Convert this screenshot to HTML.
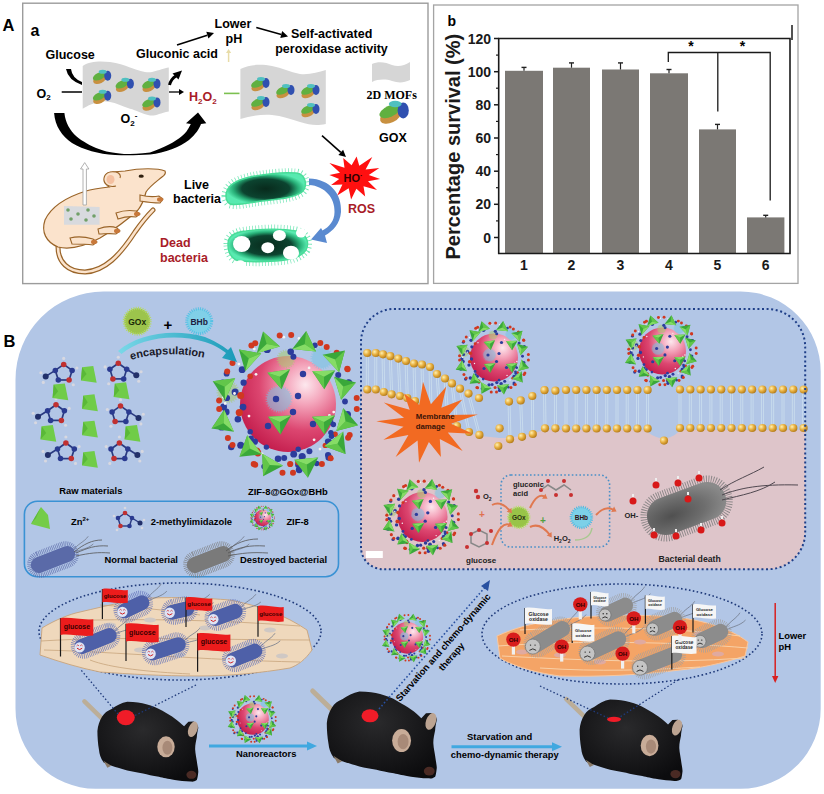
<!DOCTYPE html>
<html><head><meta charset="utf-8"><style>
html,body{margin:0;padding:0;background:#fff;}
svg{display:block;font-family:"Liberation Sans",sans-serif;}
</style></head><body>
<svg width="824" height="794" viewBox="0 0 824 794" font-family="Liberation Sans, sans-serif">
<defs>
<radialGradient id="sph" cx="0.68" cy="0.3" r="0.8">
<stop offset="0" stop-color="#fde8ee"/><stop offset="0.25" stop-color="#f4a6bc"/>
<stop offset="0.6" stop-color="#dc4670"/><stop offset="1" stop-color="#c01848"/></radialGradient>
<linearGradient id="enc" x1="0" y1="0" x2="1" y2="0"><stop offset="0" stop-color="#7ad8e8"/><stop offset="1" stop-color="#1a9ab8"/></linearGradient>
<radialGradient id="gold" cx="0.35" cy="0.35" r="0.7"><stop offset="0" stop-color="#fff0b0"/><stop offset="0.5" stop-color="#e8b040"/><stop offset="1" stop-color="#b07818"/></radialGradient>
<radialGradient id="grayb" cx="0.3" cy="0.55" r="0.7"><stop offset="0" stop-color="#505050"/><stop offset="0.6" stop-color="#6e6e6e"/><stop offset="1" stop-color="#8a8a8a"/></radialGradient>
<radialGradient id="mouse" cx="0.45" cy="0.35" r="0.7"><stop offset="0" stop-color="#2a2a2c"/><stop offset="1" stop-color="#0c0c0e"/></radialGradient>
<radialGradient id="livebac" cx="0.5" cy="0.5" r="0.5"><stop offset="0" stop-color="#082a1c"/><stop offset="0.6" stop-color="#0c4430"/><stop offset="0.82" stop-color="#28b078"/><stop offset="1" stop-color="#58eab0"/></radialGradient>
<clipPath id="dotclip"><path d="M394,309 L767.2,309 A38,38 0 0 1 805.2,347 L805.2,532.2 A37,37 0 0 1 768.2,569.2 L383,569.2 A22,22 0 0 1 361,547.2 L361,342 A33,33 0 0 1 394,309 Z"/></clipPath>
<clipPath id="panelB"><rect x="15" y="291" width="805" height="497" rx="80"/></clipPath>
<g id="np"><circle cx="0" cy="0" r="48" fill="url(#sph)"/><circle cx="-9" cy="-5" r="12" fill="#78c4e4" opacity="0.55" stroke="#78c4e4" stroke-width="3" stroke-dasharray="1 1.3"/><circle cx="34" cy="-46" r="10" fill="#78c4e4" opacity="0.55" stroke="#78c4e4" stroke-width="3" stroke-dasharray="1 1.3"/><circle cx="-60" cy="-12" r="10" fill="#a8cc70" opacity="0.55" stroke="#a8cc70" stroke-width="3" stroke-dasharray="1 1.3"/><circle cx="45" cy="35" r="8" fill="#78c4e4" opacity="0.55" stroke="#78c4e4" stroke-width="3" stroke-dasharray="1 1.3"/><circle cx="-2" cy="-45" r="8" fill="#a8cc70" opacity="0.55" stroke="#a8cc70" stroke-width="3" stroke-dasharray="1 1.3"/><circle cx="-21.6" cy="43.1" r="2.7" fill="#2c3c9c"/><circle cx="-52.9" cy="-12.1" r="3.5" fill="#2c3c9c"/><circle cx="10.2" cy="45.3" r="2.7" fill="#2c3c9c"/><circle cx="47.1" cy="30.2" r="2.7" fill="#d03820"/><circle cx="10.3" cy="60.7" r="3.2" fill="#2c3c9c"/><circle cx="-56.8" cy="43.1" r="3.2" fill="#2c3c9c"/><circle cx="37.3" cy="41.4" r="2.7" fill="#d03820"/><circle cx="-24.0" cy="62.4" r="2.7" fill="#2c3c9c"/><circle cx="-44.4" cy="-21.3" r="3.1" fill="#2c3c9c"/><circle cx="42.2" cy="17.6" r="3.1" fill="#2c3c9c"/><circle cx="-64.5" cy="-13.0" r="3.2" fill="#2c3c9c"/><circle cx="-50.1" cy="15.2" r="3.3" fill="#2c3c9c"/><circle cx="2.2" cy="60.0" r="3.1" fill="#d03820"/><circle cx="-31.3" cy="47.1" r="3.6" fill="#d03820"/><circle cx="41.1" cy="37.6" r="2.8" fill="#2c3c9c"/><circle cx="-45.0" cy="3.1" r="3.4" fill="#2c3c9c"/><circle cx="-61.4" cy="-30.3" r="2.9" fill="#2c3c9c"/><circle cx="-34.1" cy="46.8" r="2.7" fill="#2c3c9c"/><circle cx="42.9" cy="28.6" r="2.7" fill="#2c3c9c"/><circle cx="-18.6" cy="-59.3" r="2.9" fill="#2c3c9c"/><circle cx="-47.3" cy="41.2" r="3.5" fill="#2c3c9c"/><circle cx="-37.6" cy="48.2" r="2.7" fill="#2c3c9c"/><circle cx="5.4" cy="-47.3" r="3.0" fill="#2c3c9c"/><circle cx="50.2" cy="-28.9" r="3.0" fill="#2c3c9c"/><circle cx="-65.4" cy="-21.0" r="3.5" fill="#2c3c9c"/><circle cx="-9.9" cy="54.7" r="3.3" fill="#2c3c9c"/><circle cx="-36.9" cy="34.4" r="2.8" fill="#2c3c9c"/><circle cx="5.7" cy="50.2" r="3.4" fill="#2c3c9c"/><circle cx="21.4" cy="47.3" r="3.0" fill="#2c3c9c"/><circle cx="-40.8" cy="43.8" r="3.3" fill="#2c3c9c"/><circle cx="-61.0" cy="-6.0" r="3.1" fill="#2c3c9c"/><circle cx="48.7" cy="-51.2" r="3.0" fill="#d03820"/><circle cx="-37.8" cy="27.8" r="2.7" fill="#2c3c9c"/><circle cx="45.4" cy="20.5" r="2.7" fill="#2c3c9c"/><circle cx="-37.8" cy="-27.7" r="2.8" fill="#d03820"/><circle cx="43.5" cy="32.2" r="2.7" fill="#2c3c9c"/><circle cx="14.2" cy="52.6" r="3.6" fill="#2c3c9c"/><circle cx="-45.9" cy="-34.3" r="3.4" fill="#2c3c9c"/><circle cx="57.0" cy="-2.5" r="2.9" fill="#2c3c9c"/><circle cx="40.1" cy="51.1" r="3.1" fill="#2c3c9c"/><circle cx="-20.8" cy="-54.6" r="3.6" fill="#2c3c9c"/><circle cx="-47.3" cy="-8.5" r="3.5" fill="#d03820"/><circle cx="2.7" cy="-52.3" r="3.3" fill="#2c3c9c"/><circle cx="-3.8" cy="54.1" r="3.0" fill="#2c3c9c"/><circle cx="10.1" cy="58.3" r="2.9" fill="#d03820"/><circle cx="11.2" cy="65.8" r="3.4" fill="#2c3c9c"/><circle cx="26.9" cy="-58.8" r="2.8" fill="#2c3c9c"/><circle cx="-64.4" cy="2.9" r="3.4" fill="#2c3c9c"/><circle cx="-48.7" cy="8.6" r="3.6" fill="#d03820"/><circle cx="-66.4" cy="22.9" r="3.6" fill="#2c3c9c"/><circle cx="-33.1" cy="37.7" r="3.1" fill="#2c3c9c"/><circle cx="-30.1" cy="49.0" r="3.4" fill="#d03820"/><circle cx="-61.8" cy="8.0" r="3.4" fill="#2c3c9c"/><circle cx="40.0" cy="37.5" r="3.1" fill="#2c3c9c"/><circle cx="28.7" cy="59.5" r="2.7" fill="#2c3c9c"/><circle cx="60.6" cy="-21.3" r="3.0" fill="#2c3c9c"/><circle cx="60.7" cy="-21.1" r="3.6" fill="#2c3c9c"/><circle cx="59.6" cy="10.4" r="3.4" fill="#2c3c9c"/><circle cx="40.8" cy="53.4" r="3.3" fill="#2c3c9c"/><circle cx="-35.0" cy="47.9" r="2.6" fill="#2c3c9c"/><circle cx="18.9" cy="-58.8" r="1.4" fill="#f4f4f4"/><circle cx="49.9" cy="37.6" r="1.4" fill="#f4f4f4"/><circle cx="44.6" cy="53.4" r="1.4" fill="#f4f4f4"/><circle cx="22.5" cy="62.3" r="1.4" fill="#f4f4f4"/><circle cx="45.7" cy="8.1" r="1.4" fill="#f4f4f4"/><circle cx="-62.9" cy="-0.5" r="1.4" fill="#f4f4f4"/><circle cx="-25.9" cy="50.0" r="1.4" fill="#f4f4f4"/><circle cx="21.1" cy="-36.1" r="1.4" fill="#f4f4f4"/><circle cx="-4.2" cy="-66.8" r="1.4" fill="#f4f4f4"/><circle cx="-33.7" cy="-54.9" r="1.4" fill="#f4f4f4"/><circle cx="-64.5" cy="-6.8" r="1.4" fill="#f4f4f4"/><circle cx="31.7" cy="-30.4" r="1.4" fill="#f4f4f4"/><circle cx="32.0" cy="45.1" r="1.4" fill="#f4f4f4"/><circle cx="44.1" cy="-45.4" r="1.4" fill="#f4f4f4"/><circle cx="-49.1" cy="-39.9" r="1.4" fill="#f4f4f4"/><circle cx="26.1" cy="35.8" r="1.4" fill="#f4f4f4"/><circle cx="-32.0" cy="-29.7" r="1.4" fill="#f4f4f4"/><circle cx="56.0" cy="22.9" r="1.4" fill="#f4f4f4"/><circle cx="-53.5" cy="-10.5" r="1.4" fill="#f4f4f4"/><circle cx="11.0" cy="-65.6" r="1.4" fill="#f4f4f4"/><circle cx="42.9" cy="16.0" r="1.4" fill="#f4f4f4"/><circle cx="41.4" cy="11.3" r="1.4" fill="#f4f4f4"/><circle cx="-39.0" cy="12.1" r="1.4" fill="#f4f4f4"/><circle cx="32.9" cy="-25.9" r="1.4" fill="#f4f4f4"/><circle cx="-31.7" cy="61.5" r="1.4" fill="#f4f4f4"/><circle cx="10" cy="-8" r="3.2" fill="#2c3c9c"/><circle cx="-12" cy="-5" r="3.2" fill="#2c3c9c"/><circle cx="5" cy="8" r="3.2" fill="#2c3c9c"/><circle cx="-20" cy="22" r="3.2" fill="#2c3c9c"/><circle cx="25" cy="20" r="3.2" fill="#2c3c9c"/><circle cx="15" cy="-30" r="3.2" fill="#2c3c9c"/><g transform="translate(-22.0,-62.2) rotate(-196) scale(1.20)"><polygon points="-10,-7 10,-7 0,9" fill="#3aa83a"/><polygon points="-10,-7 0,-2 0,9" fill="#62c64a"/><polygon points="-10,-7 10,-7 0,-2" fill="#86dc66"/></g><circle cx="-36.6" cy="-58.5" r="3.0" fill="#d03820"/><circle cx="-8.3" cy="-68.5" r="3.0" fill="#d03820"/><g transform="translate(17.0,-62.2) rotate(-174) scale(1.20)"><polygon points="-10,-7 10,-7 0,9" fill="#3aa83a"/><polygon points="-10,-7 0,-2 0,9" fill="#62c64a"/><polygon points="-10,-7 10,-7 0,-2" fill="#86dc66"/></g><circle cx="3.2" cy="-68.9" r="3.0" fill="#d03820"/><circle cx="32.3" cy="-61.0" r="3.0" fill="#d03820"/><g transform="translate(-41.0,-47.2) rotate(-228) scale(1.20)"><polygon points="-10,-7 10,-7 0,9" fill="#3aa83a"/><polygon points="-10,-7 0,-2 0,9" fill="#62c64a"/><polygon points="-10,-7 10,-7 0,-2" fill="#86dc66"/></g><circle cx="-55.5" cy="-41.0" r="3.0" fill="#d03820"/><circle cx="-32.8" cy="-60.7" r="3.0" fill="#d03820"/><g transform="translate(49.0,-46.2) rotate(-133) scale(1.20)"><polygon points="-10,-7 10,-7 0,9" fill="#3aa83a"/><polygon points="-10,-7 0,-2 0,9" fill="#62c64a"/><polygon points="-10,-7 10,-7 0,-2" fill="#86dc66"/></g><circle cx="38.7" cy="-57.1" r="3.0" fill="#d03820"/><circle cx="59.3" cy="-35.2" r="3.0" fill="#d03820"/><g transform="translate(-65.5,-18.3) rotate(-245) scale(1.20)"><polygon points="-10,-7 10,-7 0,9" fill="#3aa83a"/><polygon points="-10,-7 0,-2 0,9" fill="#62c64a"/><polygon points="-10,-7 10,-7 0,-2" fill="#86dc66"/></g><circle cx="-68.9" cy="-3.6" r="3.0" fill="#d03820"/><circle cx="-60.8" cy="-32.6" r="3.0" fill="#d03820"/><g transform="translate(57.6,-18.3) rotate(-107) scale(1.20)"><polygon points="-10,-7 10,-7 0,9" fill="#3aa83a"/><polygon points="-10,-7 0,-2 0,9" fill="#62c64a"/><polygon points="-10,-7 10,-7 0,-2" fill="#86dc66"/></g><circle cx="59.6" cy="-34.7" r="3.0" fill="#d03820"/><circle cx="68.7" cy="-6.0" r="3.0" fill="#d03820"/><g transform="translate(-66.6,20.2) rotate(66) scale(1.20)"><polygon points="-10,-7 10,-7 0,9" fill="#3aa83a"/><polygon points="-10,-7 0,-2 0,9" fill="#62c64a"/><polygon points="-10,-7 10,-7 0,-2" fill="#86dc66"/></g><circle cx="-60.1" cy="34.0" r="3.0" fill="#d03820"/><circle cx="-68.8" cy="5.1" r="3.0" fill="#d03820"/><g transform="translate(59.8,18.0) rotate(-73) scale(1.20)"><polygon points="-10,-7 10,-7 0,9" fill="#3aa83a"/><polygon points="-10,-7 0,-2 0,9" fill="#62c64a"/><polygon points="-10,-7 10,-7 0,-2" fill="#86dc66"/></g><circle cx="68.8" cy="5.0" r="3.0" fill="#d03820"/><circle cx="60.1" cy="33.8" r="3.0" fill="#d03820"/><g transform="translate(-40.0,46.0) rotate(52) scale(1.20)"><polygon points="-10,-7 10,-7 0,9" fill="#3aa83a"/><polygon points="-10,-7 0,-2 0,9" fill="#62c64a"/><polygon points="-10,-7 10,-7 0,-2" fill="#86dc66"/></g><circle cx="-32.8" cy="60.7" r="3.0" fill="#d03820"/><circle cx="-55.5" cy="40.9" r="3.0" fill="#d03820"/><g transform="translate(51.0,41.6) rotate(-38) scale(1.20)"><polygon points="-10,-7 10,-7 0,9" fill="#3aa83a"/><polygon points="-10,-7 0,-2 0,9" fill="#62c64a"/><polygon points="-10,-7 10,-7 0,-2" fill="#86dc66"/></g><circle cx="61.7" cy="30.9" r="3.0" fill="#d03820"/><circle cx="42.7" cy="54.2" r="3.0" fill="#d03820"/><g transform="translate(-19.5,63.0) rotate(30) scale(1.20)"><polygon points="-10,-7 10,-7 0,9" fill="#3aa83a"/><polygon points="-10,-7 0,-2 0,9" fill="#62c64a"/><polygon points="-10,-7 10,-7 0,-2" fill="#86dc66"/></g><circle cx="-5.5" cy="68.8" r="3.0" fill="#d03820"/><circle cx="-34.3" cy="59.9" r="3.0" fill="#d03820"/><g transform="translate(19.0,63.0) rotate(-5) scale(1.20)"><polygon points="-10,-7 10,-7 0,9" fill="#3aa83a"/><polygon points="-10,-7 0,-2 0,9" fill="#62c64a"/><polygon points="-10,-7 10,-7 0,-2" fill="#86dc66"/></g><circle cx="33.9" cy="60.1" r="3.0" fill="#d03820"/><circle cx="5.0" cy="68.8" r="3.0" fill="#d03820"/><g transform="translate(-8.0,-25.0) rotate(-9) scale(1.15)"><polygon points="-10,-7 10,-7 0,9" fill="#3aa83a"/><polygon points="-10,-7 0,-2 0,9" fill="#62c64a"/><polygon points="-10,-7 10,-7 0,-2" fill="#86dc66"/></g><g transform="translate(36.0,-25.0) rotate(-2) scale(1.15)"><polygon points="-10,-7 10,-7 0,9" fill="#3aa83a"/><polygon points="-10,-7 0,-2 0,9" fill="#62c64a"/><polygon points="-10,-7 10,-7 0,-2" fill="#86dc66"/></g><g transform="translate(-8.0,20.2) rotate(-3) scale(1.15)"><polygon points="-10,-7 10,-7 0,9" fill="#3aa83a"/><polygon points="-10,-7 0,-2 0,9" fill="#62c64a"/><polygon points="-10,-7 10,-7 0,-2" fill="#86dc66"/></g><g transform="translate(36.0,20.2) rotate(-3) scale(1.15)"><polygon points="-10,-7 10,-7 0,9" fill="#3aa83a"/><polygon points="-10,-7 0,-2 0,9" fill="#62c64a"/><polygon points="-10,-7 10,-7 0,-2" fill="#86dc66"/></g></g>
</defs>
<rect width="824" height="794" fill="#fff"/>
<rect x="22.7" y="3.2" width="405.3" height="280.4" fill="#fff" stroke="#9c9c9c" stroke-width="1.4"/>
<text x="2.6" y="31.3" font-size="16.5" font-weight="bold" fill="#000" text-anchor="start" >A</text>
<text x="30.5" y="35.5" font-size="16" font-weight="bold" fill="#000" text-anchor="start" >a</text>
<path d="M82.7,66 C90,61 100,61 110,62 C118,63 124,65 130,67.4 C140,71 146,73 152,72 C160,70 164,68 168.8,67.4 L168.8,111.4 C160,113 156,116 150,115.4 C142,114 136,110 130,108.7 C122,106 116,103 110,102 C104,101 100,101 96.7,102.7 C90,104 86,107 82.7,108.7 Z" fill="#d6d6d6"/>
<path d="M240.4,69 C250,64 262,64 272,66 C282,68 290,72 300,74 C310,75 318,72 325.8,70 L325.8,124 C316,126 310,125 300,122 C290,119 282,116 272,115 C262,114 250,116 240.4,119 Z" fill="#d6d6d6"/>
<path d="M372,64 C378,61 386,62 392,65 C398,67 404,66 410,62 L410,80 C404,83 398,83 392,81 C386,79 378,79 372,82 Z" fill="#d6d6d6"/>
<g transform="translate(100.7,76.7) scale(1.0)"><ellipse cx="-2" cy="2" rx="7" ry="4" fill="#c89040" transform="rotate(-25)"/><ellipse cx="-1" cy="-1" rx="7" ry="3.5" fill="#60b040" transform="rotate(-25)"/><ellipse cx="7" cy="-1" rx="3.5" ry="5" fill="#3050b0"/><ellipse cx="2" cy="-5" rx="4" ry="2" fill="#50c0c0"/></g>
<g transform="translate(100.7,96.7) scale(1.0)"><ellipse cx="-2" cy="2" rx="7" ry="4" fill="#c89040" transform="rotate(-25)"/><ellipse cx="-1" cy="-1" rx="7" ry="3.5" fill="#60b040" transform="rotate(-25)"/><ellipse cx="7" cy="-1" rx="3.5" ry="5" fill="#3050b0"/><ellipse cx="2" cy="-5" rx="4" ry="2" fill="#50c0c0"/></g>
<g transform="translate(123.4,84.7) scale(1.0)"><ellipse cx="-2" cy="2" rx="7" ry="4" fill="#c89040" transform="rotate(-25)"/><ellipse cx="-1" cy="-1" rx="7" ry="3.5" fill="#60b040" transform="rotate(-25)"/><ellipse cx="7" cy="-1" rx="3.5" ry="5" fill="#3050b0"/><ellipse cx="2" cy="-5" rx="4" ry="2" fill="#50c0c0"/></g>
<g transform="translate(150,84.7) scale(1.0)"><ellipse cx="-2" cy="2" rx="7" ry="4" fill="#c89040" transform="rotate(-25)"/><ellipse cx="-1" cy="-1" rx="7" ry="3.5" fill="#60b040" transform="rotate(-25)"/><ellipse cx="7" cy="-1" rx="3.5" ry="5" fill="#3050b0"/><ellipse cx="2" cy="-5" rx="4" ry="2" fill="#50c0c0"/></g>
<g transform="translate(150,103.4) scale(1.0)"><ellipse cx="-2" cy="2" rx="7" ry="4" fill="#c89040" transform="rotate(-25)"/><ellipse cx="-1" cy="-1" rx="7" ry="3.5" fill="#60b040" transform="rotate(-25)"/><ellipse cx="7" cy="-1" rx="3.5" ry="5" fill="#3050b0"/><ellipse cx="2" cy="-5" rx="4" ry="2" fill="#50c0c0"/></g>
<g transform="translate(259,84) scale(1.0)"><ellipse cx="-2" cy="2" rx="7" ry="4" fill="#c89040" transform="rotate(-25)"/><ellipse cx="-1" cy="-1" rx="7" ry="3.5" fill="#60b040" transform="rotate(-25)"/><ellipse cx="7" cy="-1" rx="3.5" ry="5" fill="#3050b0"/><ellipse cx="2" cy="-5" rx="4" ry="2" fill="#50c0c0"/></g>
<g transform="translate(259,103) scale(1.0)"><ellipse cx="-2" cy="2" rx="7" ry="4" fill="#c89040" transform="rotate(-25)"/><ellipse cx="-1" cy="-1" rx="7" ry="3.5" fill="#60b040" transform="rotate(-25)"/><ellipse cx="7" cy="-1" rx="3.5" ry="5" fill="#3050b0"/><ellipse cx="2" cy="-5" rx="4" ry="2" fill="#50c0c0"/></g>
<g transform="translate(284,91) scale(1.0)"><ellipse cx="-2" cy="2" rx="7" ry="4" fill="#c89040" transform="rotate(-25)"/><ellipse cx="-1" cy="-1" rx="7" ry="3.5" fill="#60b040" transform="rotate(-25)"/><ellipse cx="7" cy="-1" rx="3.5" ry="5" fill="#3050b0"/><ellipse cx="2" cy="-5" rx="4" ry="2" fill="#50c0c0"/></g>
<g transform="translate(309,91) scale(1.0)"><ellipse cx="-2" cy="2" rx="7" ry="4" fill="#c89040" transform="rotate(-25)"/><ellipse cx="-1" cy="-1" rx="7" ry="3.5" fill="#60b040" transform="rotate(-25)"/><ellipse cx="7" cy="-1" rx="3.5" ry="5" fill="#3050b0"/><ellipse cx="2" cy="-5" rx="4" ry="2" fill="#50c0c0"/></g>
<g transform="translate(309,110) scale(1.0)"><ellipse cx="-2" cy="2" rx="7" ry="4" fill="#c89040" transform="rotate(-25)"/><ellipse cx="-1" cy="-1" rx="7" ry="3.5" fill="#60b040" transform="rotate(-25)"/><ellipse cx="7" cy="-1" rx="3.5" ry="5" fill="#3050b0"/><ellipse cx="2" cy="-5" rx="4" ry="2" fill="#50c0c0"/></g>
<g transform="translate(392,112) scale(1.6)"><ellipse cx="-2" cy="2" rx="7" ry="4" fill="#c89040" transform="rotate(-25)"/><ellipse cx="-1" cy="-1" rx="7" ry="3.5" fill="#60b040" transform="rotate(-25)"/><ellipse cx="7" cy="-1" rx="3.5" ry="5" fill="#3050b0"/><ellipse cx="2" cy="-5" rx="4" ry="2" fill="#50c0c0"/></g>
<text x="45.5" y="59.4" font-size="12.5" font-weight="bold" fill="#000" text-anchor="start" >Glucose</text>
<text x="136" y="58" font-size="12.5" font-weight="bold" fill="#000" text-anchor="start" >Gluconic acid</text>
<text x="214.6" y="28.2" font-size="12.5" font-weight="bold" fill="#000" text-anchor="start" >Lower</text>
<text x="225.5" y="42.8" font-size="12.5" font-weight="bold" fill="#000" text-anchor="start" >pH</text>
<text x="291" y="37.9" font-size="12.5" font-weight="bold" fill="#000" text-anchor="start" >Self-activated</text>
<text x="275.2" y="52.5" font-size="12.5" font-weight="bold" fill="#000" text-anchor="start" >peroxidase activity</text>
<text x="36.5" y="97.5" font-size="12.5" font-weight="bold">O<tspan font-size="8" dy="2.5">2</tspan></text>
<text x="120.5" y="123" font-size="12.5" font-weight="bold">O<tspan font-size="8" dy="2.5">2</tspan><tspan font-size="8" dy="-8">-</tspan></text>
<text x="189" y="101" font-size="12.5" font-weight="bold" fill="#a81c28">H<tspan font-size="8" dy="2.5">2</tspan><tspan dy="-2.5">O</tspan><tspan font-size="8" dy="2.5">2</tspan></text>
<text x="366.5" y="98.5" font-size="12" font-weight="bold" font-family="Liberation Serif, serif">2D MOFs</text>
<text x="379" y="142" font-size="12.5" font-weight="bold" fill="#000" text-anchor="start" >GOX</text>
<text x="184" y="188.5" font-size="12.5" font-weight="bold" fill="#000" text-anchor="start" >Live</text>
<text x="173" y="203" font-size="12.5" font-weight="bold" fill="#000" text-anchor="start" >bacteria</text>
<text x="160" y="247" font-size="12.5" font-weight="bold" fill="#a81c28" text-anchor="start" >Dead</text>
<text x="160" y="261.5" font-size="12.5" font-weight="bold" fill="#a81c28" text-anchor="start" >bacteria</text>
<text x="348" y="212.7" font-size="12.5" font-weight="bold" fill="#a81c28" text-anchor="start" >ROS</text>
<line x1="177" y1="45" x2="207.3" y2="35.2" stroke="#000" stroke-width="1.6"/>
<polygon points="214,33 208.4,38.5 206.3,31.8" fill="#000"/>
<line x1="256.3" y1="27.5" x2="281.3" y2="34.5" stroke="#000" stroke-width="1.6"/>
<polygon points="288,36.4 280.3,37.9 282.2,31.1" fill="#000"/>
<line x1="169" y1="92" x2="179.0" y2="92.0" stroke="#000" stroke-width="1.3"/>
<polygon points="184,92 179.0,95.0 179.0,89.0" fill="#000"/>
<line x1="322" y1="135.6" x2="340.8" y2="152.3" stroke="#000" stroke-width="1.6"/>
<polygon points="346,157 338.4,155.0 343.1,149.7" fill="#000"/>
<line x1="61.7" y1="92" x2="82" y2="92" stroke="#000" stroke-width="1.5"/>
<line x1="224" y1="93.4" x2="239.5" y2="93.4" stroke="#7cc050" stroke-width="1.6"/>
<path d="M228.6,62 L228.6,52" stroke="#e8dca8" stroke-width="1.5"/><path d="M226,53 L228.6,49 L231.2,53Z" fill="#e8dca8"/>
<path d="M66,69 Q68,80 82,85 L82,82 Q72,78 71,69 Z" fill="#000"/>
<path d="M169.5,85 Q171,79 176,76" stroke="#000" stroke-width="3" fill="none"/><polygon points="182,70.5 172.5,73.5 178.5,79.5" fill="#000"/>
<path d="M54.1,112.9 C55,126 62,136 72,143 C84,150 98,154 115,155 C130,155.5 140,155 150,154.4 C165,153 180,147 189,140 C196,134 199,129 201,124 L206.3,123.2 L198,112.5 L186,123.2 L190.8,124.1 C188,130 185,134 182,136 C175,142 165,147 150,152.5 C140,153.8 132,154 124,154 C112,153 105,151.5 99.6,149.3 C90,146 82,141 76.6,136.6 C70,130 65.5,123 64.4,112.9 Z" fill="#000"/>
<path d="M58,247 C58,262 68,272 85,272 C105,271 120,255 135,232 C142,222 148,215 153,210" fill="none" stroke="#9a6428" stroke-width="5" stroke-linecap="round"/>
<path d="M58,247 C58,262 68,272 85,272 C105,271 120,255 135,232 C142,222 148,215 153,210" fill="none" stroke="#fbe3cc" stroke-width="2.6" stroke-linecap="round"/>
<path d="M165,171 C158,168 140,168 125,171 L112,172 C104,172 102,182 109,187 C100,188 92,189 86,191 C70,196 52,205 45,220 C41,232 46,242 58,247 C70,250 85,246 100,238 C110,232 125,222 138,210 C142,205 144,200 146,192 C150,186 156,182 162,177 C165,175 166,173 165,171 Z" fill="#fbe3cc" stroke="#9a6428" stroke-width="1.2"/>
<path d="M140,195 C148,197 154,197 159,196 L163,199 L160,203 C152,203 146,202 140,201 Z" fill="#fbe3cc" stroke="#9a6428" stroke-width="1.1"/>
<path d="M116,213 C124,210 130,210 136,211 L140,214 L136,217 C130,216 124,217 118,219 Z" fill="#fbe3cc" stroke="#9a6428" stroke-width="1.1"/>
<path d="M98,229 C106,226 112,226 117,228 L120,231 L116,234 C110,233 104,234 99,234 Z" fill="#fbe3cc" stroke="#9a6428" stroke-width="1.1"/>
<path d="M70,238 C78,236 86,237 93,239 L97,242 L93,245 C86,244 79,244 72,244 Z" fill="#fbe3cc" stroke="#9a6428" stroke-width="1.1"/>
<ellipse cx="160" cy="199.5" rx="3" ry="2.2" fill="#c8783a"/>
<ellipse cx="137" cy="214" rx="3" ry="2.2" fill="#c8783a"/>
<ellipse cx="117" cy="231" rx="3" ry="2.2" fill="#c8783a"/>
<ellipse cx="94" cy="242" rx="3" ry="2.2" fill="#c8783a"/>
<path d="M116,186 C108,188 103,183 104,178 C105,173 110,171 116,172 C120,173 121,176 120,178" fill="#fbe3cc" stroke="#9a6428" stroke-width="1.1"/>
<ellipse cx="110.5" cy="179.5" rx="4" ry="4.5" fill="#f4c0a0"/>
<path d="M64,206 L99.6,207 L99.6,224.7 L64,224.7 Z" fill="#d4d8e0" opacity="0.9"/>
<circle cx="68" cy="210" r="1.8" fill="#70a068"/>
<circle cx="78" cy="214" r="1.8" fill="#70a068"/>
<circle cx="88" cy="210" r="1.8" fill="#70a068"/>
<circle cx="71" cy="219" r="1.8" fill="#70a068"/>
<circle cx="86" cy="220" r="1.8" fill="#70a068"/>
<circle cx="94" cy="216" r="1.8" fill="#70a068"/>
<path d="M83,205 L83,169 L80.5,169 L84.7,162.6 L88.9,169 L86.4,169 L86.4,205 Z" fill="#fff" stroke="#a0a0a0" stroke-width="0.8"/>
<ellipse cx="141.2" cy="176.2" rx="2.6" ry="1.6" fill="#302010"/>
<path d="M226,196 C226,186 236,180 250,177 C265,174 285,172 296,173 C306,174 308,186 302,192 C294,198 278,199 262,201 C248,203 236,206 230,204 C227,202 226,199 226,196 Z" fill="none" stroke="#58e0a8" stroke-width="9" stroke-dasharray="0.7 2.4" opacity="0.85"/>
<path d="M226,196 C226,186 236,180 250,177 C265,174 285,172 296,173 C306,174 308,186 302,192 C294,198 278,199 262,201 C248,203 236,206 230,204 C227,202 226,199 226,196 Z" fill="url(#livebac)" stroke="#48dc98" stroke-width="1.5"/>
<path d="M228,244 C228,236 236,232 246,231 C262,229 280,228 296,231 C306,233 310,242 306,250 C300,258 290,260 276,261 C260,262 244,262 236,260 C230,257 228,250 228,244 Z" fill="none" stroke="#58e0a8" stroke-width="9" stroke-dasharray="0.7 2.4" opacity="0.85"/>
<path d="M228,244 C228,236 236,232 246,231 C262,229 280,228 296,231 C306,233 310,242 306,250 C300,258 290,260 276,261 C260,262 244,262 236,260 C230,257 228,250 228,244 Z" fill="url(#livebac)" stroke="#48dc98" stroke-width="1.5"/>
<ellipse cx="241.7" cy="244" rx="8.7" ry="8" fill="#fff"/>
<ellipse cx="267.8" cy="247.7" rx="6.5" ry="5.5" fill="#fff"/>
<ellipse cx="279.4" cy="235.4" rx="6.5" ry="5.5" fill="#fff"/>
<ellipse cx="291" cy="252.8" rx="8" ry="7" fill="#fff"/>
<ellipse cx="240.3" cy="264.3" rx="5" ry="4" fill="#fff"/>
<ellipse cx="301" cy="233" rx="5" ry="4.5" fill="#fff"/>
<path d="M309,178.5 C330,179 342,194 341,212 C340,224 333,231 325,235.5 L327,243 L311,239.5 L321,228 L322.5,230.5 C329,227 334.5,221 334.5,212 C335,198 325,186 309,185 Z" fill="#5a8ad0"/>
<polygon points="380.1,179.1 368.0,181.2 377.0,190.0 363.5,186.3 365.2,196.4 356.4,188.8 351.1,199.4 348.7,188.2 337.2,195.4 342.4,184.6 331.1,185.1 339.2,178.9 329.4,175.1 340.0,172.8 329.4,163.1 344.5,167.7 343.2,158.1 351.6,165.2 356.6,156.5 359.3,165.8 372.3,157.0 365.6,169.4 379.3,168.0 368.8,175.1" fill="#ff1010"/>
<text x="343.5" y="182" font-size="11" font-weight="bold" fill="#300">HO<tspan font-size="8" dy="-4">·</tspan></text>
<rect x="433.6" y="5" width="364.4" height="278.4" fill="#fff" stroke="#a4a4a4" stroke-width="1.3"/>
<text x="447.5" y="25.5" font-size="14" font-weight="bold" fill="#000" text-anchor="start" >b</text>
<rect x="505" y="70.8" width="38" height="182.7" fill="#7b7874"/>
<line x1="524.0" y1="67.4" x2="524.0" y2="70.8" stroke="#222" stroke-width="1.2"/>
<line x1="521.5" y1="67.4" x2="526.5" y2="67.4" stroke="#222" stroke-width="1.4"/>
<rect x="553" y="67.7" width="37" height="185.8" fill="#7b7874"/>
<line x1="571.5" y1="62.9" x2="571.5" y2="67.7" stroke="#222" stroke-width="1.2"/>
<line x1="569.0" y1="62.9" x2="574.0" y2="62.9" stroke="#222" stroke-width="1.4"/>
<rect x="602" y="69.5" width="37" height="184.0" fill="#7b7874"/>
<line x1="620.5" y1="62.9" x2="620.5" y2="69.5" stroke="#222" stroke-width="1.2"/>
<line x1="618.0" y1="62.9" x2="623.0" y2="62.9" stroke="#222" stroke-width="1.4"/>
<rect x="650" y="73.3" width="38" height="180.2" fill="#7b7874"/>
<line x1="669.0" y1="69.5" x2="669.0" y2="73.3" stroke="#222" stroke-width="1.2"/>
<line x1="666.5" y1="69.5" x2="671.5" y2="69.5" stroke="#222" stroke-width="1.4"/>
<rect x="699" y="129.4" width="37" height="124.1" fill="#7b7874"/>
<line x1="717.5" y1="124.4" x2="717.5" y2="129.4" stroke="#222" stroke-width="1.2"/>
<line x1="715.0" y1="124.4" x2="720.0" y2="124.4" stroke="#222" stroke-width="1.4"/>
<rect x="747" y="217.4" width="37.39999999999998" height="36.1" fill="#7b7874"/>
<line x1="765.7" y1="215.3" x2="765.7" y2="217.4" stroke="#222" stroke-width="1.2"/>
<line x1="763.2" y1="215.3" x2="768.2" y2="215.3" stroke="#222" stroke-width="1.4"/>
<path d="M498.7,38.5 L498.7,253.5 L790,253.5 L790,38.5 Z" fill="none" stroke="#1a1a1a" stroke-width="1.6"/>
<line x1="494" y1="237.5" x2="498.7" y2="237.5" stroke="#1a1a1a" stroke-width="1.5"/>
<line x1="496" y1="220.9" x2="498.7" y2="220.9" stroke="#1a1a1a" stroke-width="1.2"/>
<text x="491" y="242.5" font-size="14" font-weight="bold" fill="#1a1a1a" text-anchor="end" >0</text>
<line x1="494" y1="204.3" x2="498.7" y2="204.3" stroke="#1a1a1a" stroke-width="1.5"/>
<line x1="496" y1="187.7" x2="498.7" y2="187.7" stroke="#1a1a1a" stroke-width="1.2"/>
<text x="491" y="209.3" font-size="14" font-weight="bold" fill="#1a1a1a" text-anchor="end" >20</text>
<line x1="494" y1="171.2" x2="498.7" y2="171.2" stroke="#1a1a1a" stroke-width="1.5"/>
<line x1="496" y1="154.6" x2="498.7" y2="154.6" stroke="#1a1a1a" stroke-width="1.2"/>
<text x="491" y="176.2" font-size="14" font-weight="bold" fill="#1a1a1a" text-anchor="end" >40</text>
<line x1="494" y1="138.0" x2="498.7" y2="138.0" stroke="#1a1a1a" stroke-width="1.5"/>
<line x1="496" y1="121.4" x2="498.7" y2="121.4" stroke="#1a1a1a" stroke-width="1.2"/>
<text x="491" y="143.0" font-size="14" font-weight="bold" fill="#1a1a1a" text-anchor="end" >60</text>
<line x1="494" y1="104.8" x2="498.7" y2="104.8" stroke="#1a1a1a" stroke-width="1.5"/>
<line x1="496" y1="88.2" x2="498.7" y2="88.2" stroke="#1a1a1a" stroke-width="1.2"/>
<text x="491" y="109.8" font-size="14" font-weight="bold" fill="#1a1a1a" text-anchor="end" >80</text>
<line x1="494" y1="71.7" x2="498.7" y2="71.7" stroke="#1a1a1a" stroke-width="1.5"/>
<line x1="496" y1="55.1" x2="498.7" y2="55.1" stroke="#1a1a1a" stroke-width="1.2"/>
<text x="491" y="76.7" font-size="14" font-weight="bold" fill="#1a1a1a" text-anchor="end" >100</text>
<line x1="494" y1="38.5" x2="498.7" y2="38.5" stroke="#1a1a1a" stroke-width="1.5"/>
<text x="491" y="43.5" font-size="14" font-weight="bold" fill="#1a1a1a" text-anchor="end" >120</text>
<text x="524.0" y="270" font-size="14" font-weight="bold" fill="#1a1a1a" text-anchor="middle" >1</text>
<text x="571.5" y="270" font-size="14" font-weight="bold" fill="#1a1a1a" text-anchor="middle" >2</text>
<text x="620.5" y="270" font-size="14" font-weight="bold" fill="#1a1a1a" text-anchor="middle" >3</text>
<text x="669.0" y="270" font-size="14" font-weight="bold" fill="#1a1a1a" text-anchor="middle" >4</text>
<text x="717.5" y="270" font-size="14" font-weight="bold" fill="#1a1a1a" text-anchor="middle" >5</text>
<text x="765.7" y="270" font-size="14" font-weight="bold" fill="#1a1a1a" text-anchor="middle" >6</text>
<text transform="translate(460,259.5) rotate(-90)" font-size="20" font-weight="bold" fill="#1a1a1a">Percentage survival (%)</text>
<path d="M668.3,62 L668.3,52.5 L770.2,52.5 L770.2,200.6 M717.8,52.5 L717.8,111.4" fill="none" stroke="#1a1a1a" stroke-width="1.3"/>
<text x="691" y="50.5" font-size="14" font-weight="bold" fill="#000" text-anchor="middle" >*</text>
<text x="742.5" y="50.5" font-size="14" font-weight="bold" fill="#000" text-anchor="middle" >*</text>
<path d="M792,25 L792,40" stroke="#1a1a1a" stroke-width="1.5"/>
<text x="3.5" y="346.5" font-size="16.5" font-weight="bold" fill="#000" text-anchor="start" >B</text>
<path d="M103.5,291.5 L740.7,291.5 A80,80 0 0 1 820.7,371.5 L820.7,708.7 A80,80 0 0 1 740.7,788.7 L95.5,788.7 A80,80 0 0 1 15.5,708.7 L15.5,379.5 A88,88 0 0 1 103.5,291.5 Z" fill="#b2c6e6"/>
<g clip-path="url(#dotclip)">
<path d="M355,392 L367,391 C385,393 400,397 410,400 C430,410 450,425 470,433 L480,436 L500,438 C515,438 530,434 545,430 L646,430 C655,440 670,442 680,430 L810,430 L810,580 L355,580 Z" fill="#dec5ca"/>
</g>
<path d="M366.3,353.0 L366.3,389.5 M368.3,353.0 L368.3,389.5" stroke="#cfe2f0" stroke-width="0.8" opacity="0.95"/>
<path d="M374.8,353.0 L374.8,389.5 M376.8,353.0 L376.8,389.5" stroke="#cfe2f0" stroke-width="0.8" opacity="0.95"/>
<path d="M382.0,354.3 L382.8,392.0 M384.0,354.3 L384.8,392.0" stroke="#cfe2f0" stroke-width="0.8" opacity="0.95"/>
<path d="M389.3,356.2 L390.6,394.3 M391.3,356.2 L392.6,394.3" stroke="#cfe2f0" stroke-width="0.8" opacity="0.95"/>
<path d="M397.3,358.6 L399.0,396.0 M399.3,358.6 L401.0,396.0" stroke="#cfe2f0" stroke-width="0.8" opacity="0.95"/>
<path d="M405.0,361.0 L406.3,398.0 M407.0,361.0 L408.3,398.0" stroke="#cfe2f0" stroke-width="0.8" opacity="0.95"/>
<path d="M413.0,363.5 L414.0,401.0 M415.0,363.5 L416.0,401.0" stroke="#cfe2f0" stroke-width="0.8" opacity="0.95"/>
<path d="M421.0,364.5 L422.0,405.0 M423.0,364.5 L424.0,405.0" stroke="#cfe2f0" stroke-width="0.8" opacity="0.95"/>
<path d="M429.0,367.0 L430.0,410.0 M431.0,367.0 L432.0,410.0" stroke="#cfe2f0" stroke-width="0.8" opacity="0.95"/>
<path d="M436.0,374.0 L439.0,416.0 M438.0,374.0 L441.0,416.0" stroke="#cfe2f0" stroke-width="0.8" opacity="0.95"/>
<path d="M444.0,378.5 L447.0,421.0 M446.0,378.5 L449.0,421.0" stroke="#cfe2f0" stroke-width="0.8" opacity="0.95"/>
<path d="M451.0,383.4 L456.0,426.0 M453.0,383.4 L458.0,426.0" stroke="#cfe2f0" stroke-width="0.8" opacity="0.95"/>
<path d="M459.0,388.7 L468.0,432.0 M461.0,388.7 L470.0,432.0" stroke="#cfe2f0" stroke-width="0.8" opacity="0.95"/>
<path d="M467.5,393.6 L478.4,434.9 M469.5,393.6 L480.4,434.9" stroke="#cfe2f0" stroke-width="0.8" opacity="0.95"/>
<path d="M508.0,401.6 L509.0,439.2 M510.0,401.6 L511.0,439.2" stroke="#cfe2f0" stroke-width="0.8" opacity="0.95"/>
<path d="M519.7,400.4 L521.0,436.8 M521.7,400.4 L523.0,436.8" stroke="#cfe2f0" stroke-width="0.8" opacity="0.95"/>
<path d="M531.3,396.0 L531.8,434.0 M533.3,396.0 L533.8,434.0" stroke="#cfe2f0" stroke-width="0.8" opacity="0.95"/>
<path d="M543.5,390.2 L544.0,428.3 M545.5,390.2 L546.0,428.3" stroke="#cfe2f0" stroke-width="0.8" opacity="0.95"/>
<path d="M554.4,390.7 L554.4,428.3 M556.4,390.7 L556.4,428.3" stroke="#cfe2f0" stroke-width="0.8" opacity="0.95"/>
<path d="M565.0,390.0 L565.0,428.5 M567.0,390.0 L567.0,428.5" stroke="#cfe2f0" stroke-width="0.8" opacity="0.95"/>
<path d="M575.2,390.0 L575.2,428.5 M577.2,390.0 L577.2,428.5" stroke="#cfe2f0" stroke-width="0.8" opacity="0.95"/>
<path d="M585.4,390.0 L585.4,428.5 M587.4,390.0 L587.4,428.5" stroke="#cfe2f0" stroke-width="0.8" opacity="0.95"/>
<path d="M595.6,390.0 L595.6,428.5 M597.6,390.0 L597.6,428.5" stroke="#cfe2f0" stroke-width="0.8" opacity="0.95"/>
<path d="M605.8,390.0 L605.8,428.5 M607.8,390.0 L607.8,428.5" stroke="#cfe2f0" stroke-width="0.8" opacity="0.95"/>
<path d="M616.0,390.0 L616.0,428.5 M618.0,390.0 L618.0,428.5" stroke="#cfe2f0" stroke-width="0.8" opacity="0.95"/>
<path d="M626.2,390.0 L626.2,428.5 M628.2,390.0 L628.2,428.5" stroke="#cfe2f0" stroke-width="0.8" opacity="0.95"/>
<path d="M636.4,390.0 L636.4,428.5 M638.4,390.0 L638.4,428.5" stroke="#cfe2f0" stroke-width="0.8" opacity="0.95"/>
<path d="M646.6,390.0 L646.6,428.5 M648.6,390.0 L648.6,428.5" stroke="#cfe2f0" stroke-width="0.8" opacity="0.95"/>
<path d="M679.0,389.5 L679.0,428.0 M681.0,389.5 L681.0,428.0" stroke="#cfe2f0" stroke-width="0.8" opacity="0.95"/>
<path d="M689.3,389.5 L689.3,428.0 M691.3,389.5 L691.3,428.0" stroke="#cfe2f0" stroke-width="0.8" opacity="0.95"/>
<path d="M699.6,389.5 L699.6,428.0 M701.6,389.5 L701.6,428.0" stroke="#cfe2f0" stroke-width="0.8" opacity="0.95"/>
<path d="M709.9,389.5 L709.9,428.0 M711.9,389.5 L711.9,428.0" stroke="#cfe2f0" stroke-width="0.8" opacity="0.95"/>
<path d="M720.2,389.5 L720.2,428.0 M722.2,389.5 L722.2,428.0" stroke="#cfe2f0" stroke-width="0.8" opacity="0.95"/>
<path d="M730.5,389.5 L730.5,428.0 M732.5,389.5 L732.5,428.0" stroke="#cfe2f0" stroke-width="0.8" opacity="0.95"/>
<path d="M740.8,389.5 L740.8,428.0 M742.8,389.5 L742.8,428.0" stroke="#cfe2f0" stroke-width="0.8" opacity="0.95"/>
<path d="M751.1,389.5 L751.1,428.0 M753.1,389.5 L753.1,428.0" stroke="#cfe2f0" stroke-width="0.8" opacity="0.95"/>
<path d="M761.4,389.5 L761.4,428.0 M763.4,389.5 L763.4,428.0" stroke="#cfe2f0" stroke-width="0.8" opacity="0.95"/>
<path d="M771.7,389.5 L771.7,428.0 M773.7,389.5 L773.7,428.0" stroke="#cfe2f0" stroke-width="0.8" opacity="0.95"/>
<path d="M782.0,389.5 L782.0,428.0 M784.0,389.5 L784.0,428.0" stroke="#cfe2f0" stroke-width="0.8" opacity="0.95"/>
<path d="M792.3,389.5 L792.3,428.0 M794.3,389.5 L794.3,428.0" stroke="#cfe2f0" stroke-width="0.8" opacity="0.95"/>
<path d="M802.6,389.5 L802.6,428.0 M804.6,389.5 L804.6,428.0" stroke="#cfe2f0" stroke-width="0.8" opacity="0.95"/>
<circle cx="367.3" cy="353" r="4.1" fill="url(#gold)"/>
<circle cx="375.8" cy="353" r="4.1" fill="url(#gold)"/>
<circle cx="383" cy="354.3" r="4.1" fill="url(#gold)"/>
<circle cx="390.3" cy="356.2" r="4.1" fill="url(#gold)"/>
<circle cx="398.3" cy="358.6" r="4.1" fill="url(#gold)"/>
<circle cx="406" cy="361" r="4.1" fill="url(#gold)"/>
<circle cx="414" cy="363.5" r="4.1" fill="url(#gold)"/>
<circle cx="422" cy="364.5" r="4.1" fill="url(#gold)"/>
<circle cx="430" cy="367" r="4.1" fill="url(#gold)"/>
<circle cx="437" cy="374" r="4.1" fill="url(#gold)"/>
<circle cx="445" cy="378.5" r="4.1" fill="url(#gold)"/>
<circle cx="452" cy="383.4" r="4.1" fill="url(#gold)"/>
<circle cx="460" cy="388.7" r="4.1" fill="url(#gold)"/>
<circle cx="468.5" cy="393.6" r="4.1" fill="url(#gold)"/>
<circle cx="479" cy="398" r="4.1" fill="url(#gold)"/>
<circle cx="367.3" cy="389.5" r="4.1" fill="url(#gold)"/>
<circle cx="375.8" cy="389.5" r="4.1" fill="url(#gold)"/>
<circle cx="383.8" cy="392" r="4.1" fill="url(#gold)"/>
<circle cx="391.6" cy="394.3" r="4.1" fill="url(#gold)"/>
<circle cx="400" cy="396" r="4.1" fill="url(#gold)"/>
<circle cx="407.3" cy="398" r="4.1" fill="url(#gold)"/>
<circle cx="415" cy="401" r="4.1" fill="url(#gold)"/>
<circle cx="423" cy="405" r="4.1" fill="url(#gold)"/>
<circle cx="431" cy="410" r="4.1" fill="url(#gold)"/>
<circle cx="440" cy="416" r="4.1" fill="url(#gold)"/>
<circle cx="448" cy="421" r="4.1" fill="url(#gold)"/>
<circle cx="457" cy="426" r="4.1" fill="url(#gold)"/>
<circle cx="469" cy="432" r="4.1" fill="url(#gold)"/>
<circle cx="479.4" cy="434.9" r="4.1" fill="url(#gold)"/>
<circle cx="509" cy="401.6" r="4.1" fill="url(#gold)"/>
<circle cx="520.7" cy="400.4" r="4.1" fill="url(#gold)"/>
<circle cx="532.3" cy="396" r="4.1" fill="url(#gold)"/>
<circle cx="544.5" cy="390.2" r="4.1" fill="url(#gold)"/>
<circle cx="555.4" cy="390.7" r="4.1" fill="url(#gold)"/>
<circle cx="566.0" cy="390" r="4.1" fill="url(#gold)"/>
<circle cx="576.2" cy="390" r="4.1" fill="url(#gold)"/>
<circle cx="586.4" cy="390" r="4.1" fill="url(#gold)"/>
<circle cx="596.6" cy="390" r="4.1" fill="url(#gold)"/>
<circle cx="606.8" cy="390" r="4.1" fill="url(#gold)"/>
<circle cx="617.0" cy="390" r="4.1" fill="url(#gold)"/>
<circle cx="627.2" cy="390" r="4.1" fill="url(#gold)"/>
<circle cx="637.4" cy="390" r="4.1" fill="url(#gold)"/>
<circle cx="647.6" cy="390" r="4.1" fill="url(#gold)"/>
<circle cx="510" cy="439.2" r="4.1" fill="url(#gold)"/>
<circle cx="522" cy="436.8" r="4.1" fill="url(#gold)"/>
<circle cx="532.8" cy="434" r="4.1" fill="url(#gold)"/>
<circle cx="545" cy="428.3" r="4.1" fill="url(#gold)"/>
<circle cx="555.4" cy="428.3" r="4.1" fill="url(#gold)"/>
<circle cx="566.0" cy="428.5" r="4.1" fill="url(#gold)"/>
<circle cx="576.2" cy="428.5" r="4.1" fill="url(#gold)"/>
<circle cx="586.4" cy="428.5" r="4.1" fill="url(#gold)"/>
<circle cx="596.6" cy="428.5" r="4.1" fill="url(#gold)"/>
<circle cx="606.8" cy="428.5" r="4.1" fill="url(#gold)"/>
<circle cx="617.0" cy="428.5" r="4.1" fill="url(#gold)"/>
<circle cx="627.2" cy="428.5" r="4.1" fill="url(#gold)"/>
<circle cx="637.4" cy="428.5" r="4.1" fill="url(#gold)"/>
<circle cx="647.6" cy="428.5" r="4.1" fill="url(#gold)"/>
<circle cx="680.0" cy="389.5" r="4.1" fill="url(#gold)"/>
<circle cx="690.3" cy="389.5" r="4.1" fill="url(#gold)"/>
<circle cx="700.6" cy="389.5" r="4.1" fill="url(#gold)"/>
<circle cx="710.9" cy="389.5" r="4.1" fill="url(#gold)"/>
<circle cx="721.2" cy="389.5" r="4.1" fill="url(#gold)"/>
<circle cx="731.5" cy="389.5" r="4.1" fill="url(#gold)"/>
<circle cx="741.8" cy="389.5" r="4.1" fill="url(#gold)"/>
<circle cx="752.1" cy="389.5" r="4.1" fill="url(#gold)"/>
<circle cx="762.4" cy="389.5" r="4.1" fill="url(#gold)"/>
<circle cx="772.7" cy="389.5" r="4.1" fill="url(#gold)"/>
<circle cx="783.0" cy="389.5" r="4.1" fill="url(#gold)"/>
<circle cx="793.3" cy="389.5" r="4.1" fill="url(#gold)"/>
<circle cx="803.6" cy="389.5" r="4.1" fill="url(#gold)"/>
<circle cx="680.0" cy="428" r="4.1" fill="url(#gold)"/>
<circle cx="690.3" cy="428" r="4.1" fill="url(#gold)"/>
<circle cx="700.6" cy="428" r="4.1" fill="url(#gold)"/>
<circle cx="710.9" cy="428" r="4.1" fill="url(#gold)"/>
<circle cx="721.2" cy="428" r="4.1" fill="url(#gold)"/>
<circle cx="731.5" cy="428" r="4.1" fill="url(#gold)"/>
<circle cx="741.8" cy="428" r="4.1" fill="url(#gold)"/>
<circle cx="752.1" cy="428" r="4.1" fill="url(#gold)"/>
<circle cx="762.4" cy="428" r="4.1" fill="url(#gold)"/>
<circle cx="772.7" cy="428" r="4.1" fill="url(#gold)"/>
<circle cx="783.0" cy="428" r="4.1" fill="url(#gold)"/>
<circle cx="793.3" cy="428" r="4.1" fill="url(#gold)"/>
<circle cx="803.6" cy="428" r="4.1" fill="url(#gold)"/>
<circle cx="498.3" cy="446" r="4.1" fill="url(#gold)"/>
<circle cx="664" cy="440.6" r="4.1" fill="url(#gold)"/>
<circle cx="499.6" cy="428.3" r="4.1" fill="url(#gold)"/>
<path d="M394,309 L767.2,309 A38,38 0 0 1 805.2,347 L805.2,532.2 A37,37 0 0 1 768.2,569.2 L383,569.2 A22,22 0 0 1 361,547.2 L361,342 A33,33 0 0 1 394,309 Z" fill="none" stroke="#1f3f88" stroke-width="2" stroke-dasharray="2 2.6"/>
<polygon points="477.8,414.6 451.0,423.8 472.8,433.8 447.8,432.5 462.7,451.0 439.8,439.1 440.9,456.9 428.9,441.9 419.0,462.7 417.6,440.5 395.6,456.9 408.4,435.0 383.4,439.8 403.5,426.8 376.3,421.3 404.0,417.7 383.8,402.6 409.7,409.8 404.1,393.5 419.4,405.0 423.0,381.7 430.9,404.3 446.3,386.4 441.4,407.8 462.4,399.6 448.7,414.9" fill="#f26a22"/>
<text x="415.7" y="418.6" font-size="7.8" font-weight="bold" fill="#3a1408" text-anchor="start" >Membrane</text>
<text x="415.7" y="429" font-size="7.8" font-weight="bold" fill="#3a1408" text-anchor="start" >damage</text>
<use href="#np" transform="translate(288,404) scale(1.0)"/>
<use href="#np" transform="translate(494,357.5) scale(0.5)"/>
<use href="#np" transform="translate(662.5,351) scale(0.49)"/>
<use href="#np" transform="translate(422.6,517) scale(0.52)"/>
<use href="#np" transform="translate(253,719) scale(0.33)"/>
<use href="#np" transform="translate(407.3,637.8) scale(0.33)"/>
<use href="#np" transform="translate(262.7,518) scale(0.17)"/>
<circle cx="137.2" cy="321.2" r="13" fill="#9cc44c" stroke="#b4d868" stroke-width="3" stroke-dasharray="1 1.2"/>
<circle cx="199.2" cy="321.2" r="12.5" fill="#80d0e8" stroke="#58c0e4" stroke-width="3" stroke-dasharray="1 1.2"/>
<text x="137.2" y="324.5" font-size="8.5" font-weight="bold" fill="#1a2a08" text-anchor="middle" >GOx</text>
<text x="199.2" y="324.5" font-size="8.5" font-weight="bold" fill="#202040" text-anchor="middle" >BHb</text>
<text x="167.8" y="330" font-size="15" font-weight="bold" fill="#000" text-anchor="middle" >+</text>
<path d="M121.5,354 C140,338 175,333 205,342 C215,345 222,350 226,353 L222,358 L237,362 L231,347 L228,350 C222,345 212,340 205,337 C172,328 138,334 118,351 Z" fill="url(#enc)"/>
<path id="encp" d="M131,360 Q168,349 210,359" fill="none"/>
<text font-size="11" font-weight="bold" fill="#1a1a2a"><textPath href="#encp">encapsulation</textPath></text>
<g transform="translate(63.7,372.8) scale(1.2,1.2)"><line x1="0" y1="-7" x2="7" y2="-2" stroke="#2a3a80" stroke-width="1.4"/><line x1="7" y1="-2" x2="4.5" y2="6" stroke="#2a3a80" stroke-width="1.4"/><line x1="4.5" y1="6" x2="-4.5" y2="6" stroke="#2a3a80" stroke-width="1.4"/><line x1="-4.5" y1="6" x2="-7" y2="-2" stroke="#2a3a80" stroke-width="1.4"/><line x1="-7" y1="-2" x2="0" y2="-7" stroke="#2a3a80" stroke-width="1.4"/><line x1="-7" y1="-2" x2="-15" y2="3" stroke="#2a3a80" stroke-width="1.4"/><circle cx="0" cy="-7" r="2.3" fill="#c03030"/><circle cx="7" cy="-2" r="2.3" fill="#2a3a90"/><circle cx="4.5" cy="6" r="2.3" fill="#c03030"/><circle cx="-4.5" cy="6" r="2.3" fill="#2a3a90"/><circle cx="-7" cy="-2" r="2.3" fill="#2a3a90"/><circle cx="-15" cy="3" r="2.5" fill="#22306a"/><circle cx="0" cy="-12" r="1.3" fill="#d8d8e0"/><circle cx="11" cy="-4" r="1.3" fill="#d8d8e0"/><circle cx="-19" cy="0" r="1.3" fill="#d8d8e0"/><circle cx="-17" cy="8" r="1.3" fill="#d8d8e0"/><circle cx="8" cy="10" r="1.3" fill="#d8d8e0"/></g>
<g transform="translate(118.3,371.7) scale(-1.2,1.2)"><line x1="0" y1="-7" x2="7" y2="-2" stroke="#2a3a80" stroke-width="1.4"/><line x1="7" y1="-2" x2="4.5" y2="6" stroke="#2a3a80" stroke-width="1.4"/><line x1="4.5" y1="6" x2="-4.5" y2="6" stroke="#2a3a80" stroke-width="1.4"/><line x1="-4.5" y1="6" x2="-7" y2="-2" stroke="#2a3a80" stroke-width="1.4"/><line x1="-7" y1="-2" x2="0" y2="-7" stroke="#2a3a80" stroke-width="1.4"/><line x1="-7" y1="-2" x2="-15" y2="3" stroke="#2a3a80" stroke-width="1.4"/><circle cx="0" cy="-7" r="2.3" fill="#c03030"/><circle cx="7" cy="-2" r="2.3" fill="#2a3a90"/><circle cx="4.5" cy="6" r="2.3" fill="#c03030"/><circle cx="-4.5" cy="6" r="2.3" fill="#2a3a90"/><circle cx="-7" cy="-2" r="2.3" fill="#2a3a90"/><circle cx="-15" cy="3" r="2.5" fill="#22306a"/><circle cx="0" cy="-12" r="1.3" fill="#d8d8e0"/><circle cx="11" cy="-4" r="1.3" fill="#d8d8e0"/><circle cx="-19" cy="0" r="1.3" fill="#d8d8e0"/><circle cx="-17" cy="8" r="1.3" fill="#d8d8e0"/><circle cx="8" cy="10" r="1.3" fill="#d8d8e0"/></g>
<g transform="translate(56,413.2) scale(1.2,1.2)"><line x1="0" y1="-7" x2="7" y2="-2" stroke="#2a3a80" stroke-width="1.4"/><line x1="7" y1="-2" x2="4.5" y2="6" stroke="#2a3a80" stroke-width="1.4"/><line x1="4.5" y1="6" x2="-4.5" y2="6" stroke="#2a3a80" stroke-width="1.4"/><line x1="-4.5" y1="6" x2="-7" y2="-2" stroke="#2a3a80" stroke-width="1.4"/><line x1="-7" y1="-2" x2="0" y2="-7" stroke="#2a3a80" stroke-width="1.4"/><line x1="-7" y1="-2" x2="-15" y2="3" stroke="#2a3a80" stroke-width="1.4"/><circle cx="0" cy="-7" r="2.3" fill="#c03030"/><circle cx="7" cy="-2" r="2.3" fill="#2a3a90"/><circle cx="4.5" cy="6" r="2.3" fill="#c03030"/><circle cx="-4.5" cy="6" r="2.3" fill="#2a3a90"/><circle cx="-7" cy="-2" r="2.3" fill="#2a3a90"/><circle cx="-15" cy="3" r="2.5" fill="#22306a"/><circle cx="0" cy="-12" r="1.3" fill="#d8d8e0"/><circle cx="11" cy="-4" r="1.3" fill="#d8d8e0"/><circle cx="-19" cy="0" r="1.3" fill="#d8d8e0"/><circle cx="-17" cy="8" r="1.3" fill="#d8d8e0"/><circle cx="8" cy="10" r="1.3" fill="#d8d8e0"/></g>
<g transform="translate(120.5,414.3) scale(-1.2,1.2)"><line x1="0" y1="-7" x2="7" y2="-2" stroke="#2a3a80" stroke-width="1.4"/><line x1="7" y1="-2" x2="4.5" y2="6" stroke="#2a3a80" stroke-width="1.4"/><line x1="4.5" y1="6" x2="-4.5" y2="6" stroke="#2a3a80" stroke-width="1.4"/><line x1="-4.5" y1="6" x2="-7" y2="-2" stroke="#2a3a80" stroke-width="1.4"/><line x1="-7" y1="-2" x2="0" y2="-7" stroke="#2a3a80" stroke-width="1.4"/><line x1="-7" y1="-2" x2="-15" y2="3" stroke="#2a3a80" stroke-width="1.4"/><circle cx="0" cy="-7" r="2.3" fill="#c03030"/><circle cx="7" cy="-2" r="2.3" fill="#2a3a90"/><circle cx="4.5" cy="6" r="2.3" fill="#c03030"/><circle cx="-4.5" cy="6" r="2.3" fill="#2a3a90"/><circle cx="-7" cy="-2" r="2.3" fill="#2a3a90"/><circle cx="-15" cy="3" r="2.5" fill="#22306a"/><circle cx="0" cy="-12" r="1.3" fill="#d8d8e0"/><circle cx="11" cy="-4" r="1.3" fill="#d8d8e0"/><circle cx="-19" cy="0" r="1.3" fill="#d8d8e0"/><circle cx="-17" cy="8" r="1.3" fill="#d8d8e0"/><circle cx="8" cy="10" r="1.3" fill="#d8d8e0"/></g>
<g transform="translate(65.9,451.4) scale(1.2,1.2)"><line x1="0" y1="-7" x2="7" y2="-2" stroke="#2a3a80" stroke-width="1.4"/><line x1="7" y1="-2" x2="4.5" y2="6" stroke="#2a3a80" stroke-width="1.4"/><line x1="4.5" y1="6" x2="-4.5" y2="6" stroke="#2a3a80" stroke-width="1.4"/><line x1="-4.5" y1="6" x2="-7" y2="-2" stroke="#2a3a80" stroke-width="1.4"/><line x1="-7" y1="-2" x2="0" y2="-7" stroke="#2a3a80" stroke-width="1.4"/><line x1="-7" y1="-2" x2="-15" y2="3" stroke="#2a3a80" stroke-width="1.4"/><circle cx="0" cy="-7" r="2.3" fill="#c03030"/><circle cx="7" cy="-2" r="2.3" fill="#2a3a90"/><circle cx="4.5" cy="6" r="2.3" fill="#c03030"/><circle cx="-4.5" cy="6" r="2.3" fill="#2a3a90"/><circle cx="-7" cy="-2" r="2.3" fill="#2a3a90"/><circle cx="-15" cy="3" r="2.5" fill="#22306a"/><circle cx="0" cy="-12" r="1.3" fill="#d8d8e0"/><circle cx="11" cy="-4" r="1.3" fill="#d8d8e0"/><circle cx="-19" cy="0" r="1.3" fill="#d8d8e0"/><circle cx="-17" cy="8" r="1.3" fill="#d8d8e0"/><circle cx="8" cy="10" r="1.3" fill="#d8d8e0"/></g>
<g transform="translate(119.4,451.4) scale(-1.2,1.2)"><line x1="0" y1="-7" x2="7" y2="-2" stroke="#2a3a80" stroke-width="1.4"/><line x1="7" y1="-2" x2="4.5" y2="6" stroke="#2a3a80" stroke-width="1.4"/><line x1="4.5" y1="6" x2="-4.5" y2="6" stroke="#2a3a80" stroke-width="1.4"/><line x1="-4.5" y1="6" x2="-7" y2="-2" stroke="#2a3a80" stroke-width="1.4"/><line x1="-7" y1="-2" x2="0" y2="-7" stroke="#2a3a80" stroke-width="1.4"/><line x1="-7" y1="-2" x2="-15" y2="3" stroke="#2a3a80" stroke-width="1.4"/><circle cx="0" cy="-7" r="2.3" fill="#c03030"/><circle cx="7" cy="-2" r="2.3" fill="#2a3a90"/><circle cx="4.5" cy="6" r="2.3" fill="#c03030"/><circle cx="-4.5" cy="6" r="2.3" fill="#2a3a90"/><circle cx="-7" cy="-2" r="2.3" fill="#2a3a90"/><circle cx="-15" cy="3" r="2.5" fill="#22306a"/><circle cx="0" cy="-12" r="1.3" fill="#d8d8e0"/><circle cx="11" cy="-4" r="1.3" fill="#d8d8e0"/><circle cx="-19" cy="0" r="1.3" fill="#d8d8e0"/><circle cx="-17" cy="8" r="1.3" fill="#d8d8e0"/><circle cx="8" cy="10" r="1.3" fill="#d8d8e0"/></g>
<g transform="translate(88.8,375) scale(1.12)"><polygon points="-6,-7 4,-8 7,7 -7,5" fill="#70cc48"/><polygon points="-6,-7 -2,-1 -7,5" fill="#5ab838"/></g>
<g transform="translate(60.4,392.4) scale(1.12)"><polygon points="-6,-7 4,-8 7,7 -7,5" fill="#70cc48"/><polygon points="-6,-7 -2,-1 -7,5" fill="#5ab838"/></g>
<g transform="translate(121.6,391.3) scale(1.12)"><polygon points="-6,-7 4,-8 7,7 -7,5" fill="#70cc48"/><polygon points="-6,-7 -2,-1 -7,5" fill="#5ab838"/></g>
<g transform="translate(90,403.3) scale(1.12)"><polygon points="-6,-7 4,-8 7,7 -7,5" fill="#70cc48"/><polygon points="-6,-7 -2,-1 -7,5" fill="#5ab838"/></g>
<g transform="translate(48.4,434) scale(1.12)"><polygon points="-6,-7 4,-8 7,7 -7,5" fill="#70cc48"/><polygon points="-6,-7 -2,-1 -7,5" fill="#5ab838"/></g>
<g transform="translate(90,429.6) scale(1.12)"><polygon points="-6,-7 4,-8 7,7 -7,5" fill="#70cc48"/><polygon points="-6,-7 -2,-1 -7,5" fill="#5ab838"/></g>
<g transform="translate(132.5,434) scale(1.12)"><polygon points="-6,-7 4,-8 7,7 -7,5" fill="#70cc48"/><polygon points="-6,-7 -2,-1 -7,5" fill="#5ab838"/></g>
<g transform="translate(90,460) scale(1.12)"><polygon points="-6,-7 4,-8 7,7 -7,5" fill="#70cc48"/><polygon points="-6,-7 -2,-1 -7,5" fill="#5ab838"/></g>
<text x="59.3" y="494" font-size="9.4" font-weight="bold" fill="#000" text-anchor="start" >Raw materials</text>
<text x="248" y="495" font-size="9.4" font-weight="bold" fill="#000" text-anchor="start" >ZIF-8@GOx@BHb</text>
<rect x="24.4" y="501.2" width="314.1" height="75.5" rx="13" fill="none" stroke="#3a92d4" stroke-width="1.6"/>
<polygon points="41,507 48,515 50,529 31,524" fill="#74cc48"/><polygon points="41,507 36,518 31,524" fill="#5cb83a"/>
<text x="71" y="524.5" font-size="9.4" font-weight="bold">Zn<tspan font-size="6" dy="-4">2+</tspan></text>
<g transform="translate(125,520) scale(-1.0,1.0)"><line x1="0" y1="-7" x2="7" y2="-2" stroke="#2a3a80" stroke-width="1.4"/><line x1="7" y1="-2" x2="4.5" y2="6" stroke="#2a3a80" stroke-width="1.4"/><line x1="4.5" y1="6" x2="-4.5" y2="6" stroke="#2a3a80" stroke-width="1.4"/><line x1="-4.5" y1="6" x2="-7" y2="-2" stroke="#2a3a80" stroke-width="1.4"/><line x1="-7" y1="-2" x2="0" y2="-7" stroke="#2a3a80" stroke-width="1.4"/><line x1="-7" y1="-2" x2="-15" y2="3" stroke="#2a3a80" stroke-width="1.4"/><circle cx="0" cy="-7" r="2.3" fill="#c03030"/><circle cx="7" cy="-2" r="2.3" fill="#2a3a90"/><circle cx="4.5" cy="6" r="2.3" fill="#c03030"/><circle cx="-4.5" cy="6" r="2.3" fill="#2a3a90"/><circle cx="-7" cy="-2" r="2.3" fill="#2a3a90"/><circle cx="-15" cy="3" r="2.5" fill="#22306a"/><circle cx="0" cy="-12" r="1.3" fill="#d8d8e0"/><circle cx="11" cy="-4" r="1.3" fill="#d8d8e0"/><circle cx="-19" cy="0" r="1.3" fill="#d8d8e0"/><circle cx="-17" cy="8" r="1.3" fill="#d8d8e0"/><circle cx="8" cy="10" r="1.3" fill="#d8d8e0"/></g>
<text x="150.7" y="524.5" font-size="9.4" font-weight="bold" fill="#000" text-anchor="start" >2-methylimidazole</text>
<text x="286.4" y="524.5" font-size="9.4" font-weight="bold" fill="#000" text-anchor="start" >ZIF-8</text>
<text x="104.5" y="563" font-size="9.4" font-weight="bold" fill="#000" text-anchor="start" >Normal bacterial</text>
<text x="240" y="563" font-size="9.4" font-weight="bold" fill="#000" text-anchor="start" >Destroyed bacterial</text>
<g transform="translate(36,566) rotate(-21)"><path d="M39.40054944640259,-1 C47.40054944640259,-6 53.40054944640259,-5 59.40054944640259,-9 M39.40054944640259,1 C47.40054944640259,0 53.40054944640259,3 61.40054944640259,0" stroke="#707888" stroke-width="0.7" fill="none"/><rect x="-6" y="-11" width="48.40054944640259" height="22" rx="11" fill="none" stroke="#5a6aa8" stroke-width="5" stroke-dasharray="0.7 1.1" opacity="0.85"/><rect x="-5" y="-8" width="46.40054944640259" height="16" rx="8" fill="#5a6aa8"/></g>
<path d="M76,553 C88,548 95,545 108,546 M76,556 C90,553 98,552 110,553 M74,552 C84,544 92,540 102,540" stroke="#555" stroke-width="0.8" fill="none"/>
<g transform="translate(192,566) rotate(-21)"><path d="M39.40054944640259,-1 C47.40054944640259,-6 53.40054944640259,-5 59.40054944640259,-9 M39.40054944640259,1 C47.40054944640259,0 53.40054944640259,3 61.40054944640259,0" stroke="#707888" stroke-width="0.7" fill="none"/><rect x="-6" y="-11" width="48.40054944640259" height="22" rx="11" fill="none" stroke="#7a7a7a" stroke-width="5" stroke-dasharray="0.7 1.1" opacity="0.85"/><rect x="-5" y="-8" width="46.40054944640259" height="16" rx="8" fill="#7a7a7a"/></g>
<path d="M228,553 C240,547 250,545 265,546 M228,556 C242,553 252,552 268,553 M226,551 C236,543 246,539 258,539" stroke="#555" stroke-width="0.8" fill="none"/>
<ellipse cx="180" cy="631.5" rx="141" ry="48.5" fill="none" stroke="#1f3a7a" stroke-width="1.6" stroke-dasharray="1.6 2.4"/>
<path d="M42,628 C55,620 70,614 80,612 C110,605 130,600 150,598 C180,597 205,598 230,600 C260,606 285,615 307,630 L312,650 C305,660 298,665 290,668 C260,673 230,676 200,676 C160,676 130,674 100,672 C80,668 60,662 40,655 Z" fill="#efd8bc" stroke="#c8a47c" stroke-width="0.9"/>
<path d="M41,641 C120,636 220,640 310,640 M60,621 C140,618 220,620 300,626 M44,650 C120,652 200,660 300,662 M100,605 C150,608 180,612 200,615 M90,660 C110,668 150,672 190,674" stroke="#c8a47c" stroke-width="0.8" fill="none"/>
<ellipse cx="110" cy="625" rx="6" ry="2.6" fill="#cfc8c4"/>
<ellipse cx="150" cy="620" rx="6" ry="2.6" fill="#cfc8c4"/>
<ellipse cx="205" cy="628" rx="6" ry="2.6" fill="#cfc8c4"/>
<ellipse cx="250" cy="645" rx="6" ry="2.6" fill="#cfc8c4"/>
<ellipse cx="235" cy="664" rx="6" ry="2.6" fill="#cfc8c4"/>
<ellipse cx="140" cy="650" rx="6" ry="2.6" fill="#cfc8c4"/>
<ellipse cx="180" cy="655" rx="6" ry="2.6" fill="#cfc8c4"/>
<ellipse cx="282" cy="656" rx="6" ry="2.6" fill="#cfc8c4"/>
<ellipse cx="95" cy="640" rx="6" ry="2.6" fill="#cfc8c4"/>
<ellipse cx="270" cy="630" rx="6" ry="2.6" fill="#cfc8c4"/>
<g transform="translate(122.4,611.9) rotate(-25)"><path d="M27.02602755346792,-1 C35.02602755346792,-6 41.02602755346792,-5 47.02602755346792,-9 M27.02602755346792,1 C35.02602755346792,0 41.02602755346792,3 49.02602755346792,0" stroke="#707888" stroke-width="0.7" fill="none"/><rect x="-6" y="-10.5" width="36.02602755346792" height="21.0" rx="10.5" fill="none" stroke="#6070b8" stroke-width="5" stroke-dasharray="0.7 1.1" opacity="0.85"/><rect x="-5" y="-7.5" width="34.02602755346792" height="15.0" rx="7.5" fill="#4e60a8"/></g>
<g transform="translate(79.6,647.4) rotate(-22)"><path d="M37.37222716089254,-1 C45.37222716089254,-6 51.37222716089254,-5 57.37222716089254,-9 M37.37222716089254,1 C45.37222716089254,0 51.37222716089254,3 59.37222716089254,0" stroke="#707888" stroke-width="0.7" fill="none"/><rect x="-6" y="-10.5" width="46.37222716089254" height="21.0" rx="10.5" fill="none" stroke="#6070b8" stroke-width="5" stroke-dasharray="0.7 1.1" opacity="0.85"/><rect x="-5" y="-7.5" width="44.37222716089254" height="15.0" rx="7.5" fill="#4e60a8"/></g>
<g transform="translate(150.6,653.7) rotate(-18)"><path d="M34.622776601683796,-1 C42.622776601683796,-6 48.622776601683796,-5 54.622776601683796,-9 M34.622776601683796,1 C42.622776601683796,0 48.622776601683796,3 56.622776601683796,0" stroke="#707888" stroke-width="0.7" fill="none"/><rect x="-6" y="-10.5" width="43.622776601683796" height="21.0" rx="10.5" fill="none" stroke="#6070b8" stroke-width="5" stroke-dasharray="0.7 1.1" opacity="0.85"/><rect x="-5" y="-7.5" width="41.622776601683796" height="15.0" rx="7.5" fill="#4e60a8"/></g>
<g transform="translate(169.7,612.8) rotate(-13)"><path d="M23.08780724718357,-1 C31.08780724718357,-6 37.08780724718357,-5 43.08780724718357,-9 M23.08780724718357,1 C31.08780724718357,0 37.08780724718357,3 45.08780724718357,0" stroke="#707888" stroke-width="0.7" fill="none"/><rect x="-6" y="-10.5" width="32.08780724718357" height="21.0" rx="10.5" fill="none" stroke="#6070b8" stroke-width="5" stroke-dasharray="0.7 1.1" opacity="0.85"/><rect x="-5" y="-7.5" width="30.08780724718357" height="15.0" rx="7.5" fill="#4e60a8"/></g>
<g transform="translate(213.3,619.3) rotate(-20)"><path d="M28.622255950637886,-1 C36.622255950637886,-6 42.622255950637886,-5 48.622255950637886,-9 M28.622255950637886,1 C36.622255950637886,0 42.622255950637886,3 50.622255950637886,0" stroke="#707888" stroke-width="0.7" fill="none"/><rect x="-6" y="-10.5" width="37.622255950637886" height="21.0" rx="10.5" fill="none" stroke="#6070b8" stroke-width="5" stroke-dasharray="0.7 1.1" opacity="0.85"/><rect x="-5" y="-7.5" width="35.622255950637886" height="15.0" rx="7.5" fill="#4e60a8"/></g>
<g transform="translate(230.8,660.8) rotate(-22)"><path d="M31.33866616480032,-1 C39.338666164800316,-6 45.338666164800316,-5 51.338666164800316,-9 M31.33866616480032,1 C39.338666164800316,0 45.338666164800316,3 53.338666164800316,0" stroke="#707888" stroke-width="0.7" fill="none"/><rect x="-6" y="-10.5" width="40.338666164800316" height="21.0" rx="10.5" fill="none" stroke="#6070b8" stroke-width="5" stroke-dasharray="0.7 1.1" opacity="0.85"/><rect x="-5" y="-7.5" width="38.338666164800316" height="15.0" rx="7.5" fill="#4e60a8"/></g>
<circle cx="122.4" cy="611.9" r="5.2" fill="#dfe4f4"/><path d="M119.80000000000001,612.6999999999999 Q122.4,615.5 125.0,612.6999999999999" stroke="#d02020" stroke-width="1" fill="none"/><path d="M119.4,610.4 l1.2,-1 l1.2,1 M123.0,610.4 l1.2,-1 l1.2,1" stroke="#d02020" stroke-width="0.7" fill="none"/>
<circle cx="79.6" cy="647.4" r="5.2" fill="#dfe4f4"/><path d="M77.0,648.1999999999999 Q79.6,651.0 82.19999999999999,648.1999999999999" stroke="#d02020" stroke-width="1" fill="none"/><path d="M76.6,645.9 l1.2,-1 l1.2,1 M80.19999999999999,645.9 l1.2,-1 l1.2,1" stroke="#d02020" stroke-width="0.7" fill="none"/>
<circle cx="150.6" cy="653.7" r="5.2" fill="#dfe4f4"/><path d="M148.0,654.5 Q150.6,657.3000000000001 153.2,654.5" stroke="#d02020" stroke-width="1" fill="none"/><path d="M147.6,652.2 l1.2,-1 l1.2,1 M151.2,652.2 l1.2,-1 l1.2,1" stroke="#d02020" stroke-width="0.7" fill="none"/>
<circle cx="169.7" cy="612.8" r="5.2" fill="#dfe4f4"/><path d="M167.1,613.5999999999999 Q169.7,616.4 172.29999999999998,613.5999999999999" stroke="#d02020" stroke-width="1" fill="none"/><path d="M166.7,611.3 l1.2,-1 l1.2,1 M170.29999999999998,611.3 l1.2,-1 l1.2,1" stroke="#d02020" stroke-width="0.7" fill="none"/>
<circle cx="213.3" cy="619.3" r="5.2" fill="#dfe4f4"/><path d="M210.70000000000002,620.0999999999999 Q213.3,622.9 215.9,620.0999999999999" stroke="#d02020" stroke-width="1" fill="none"/><path d="M210.3,617.8 l1.2,-1 l1.2,1 M213.9,617.8 l1.2,-1 l1.2,1" stroke="#d02020" stroke-width="0.7" fill="none"/>
<circle cx="230.8" cy="660.8" r="5.2" fill="#dfe4f4"/><path d="M228.20000000000002,661.5999999999999 Q230.8,664.4 233.4,661.5999999999999" stroke="#d02020" stroke-width="1" fill="none"/><path d="M227.8,659.3 l1.2,-1 l1.2,1 M231.4,659.3 l1.2,-1 l1.2,1" stroke="#d02020" stroke-width="0.7" fill="none"/>
<line x1="102.4" y1="589" x2="102.4" y2="619" stroke="#1a1a1a" stroke-width="1.2"/><path d="M102.4,589 C110.02000000000001,587.5 117.64,591 127.80000000000001,590 L127.80000000000001,602.8 C117.64,604.3 110.02000000000001,600.8 102.4,602.3 Z" fill="#ec1c1c"/><text x="115.10000000000001" y="597.9" font-size="6.0476190476190474" font-weight="bold" fill="#3a0000" text-anchor="middle">glucose</text>
<line x1="60.5" y1="618.2" x2="60.5" y2="656.5" stroke="#1a1a1a" stroke-width="1.2"/><path d="M60.5,618.2 C70.34,616.7 80.17999999999999,620.2 93.3,619.2 L93.3,635.5 C80.17999999999999,637.0 70.34,633.5 60.5,635.0 Z" fill="#ec1c1c"/><text x="76.9" y="628.85" font-size="7" font-weight="bold" fill="#3a0000" text-anchor="middle">glucose</text>
<line x1="126" y1="623.7" x2="126" y2="661" stroke="#1a1a1a" stroke-width="1.2"/><path d="M126,623.7 C135.81,622.2 145.62,625.7 158.7,624.7 L158.7,642.0 C145.62,643.5 135.81,640.0 126,641.5 Z" fill="#ec1c1c"/><text x="142.35" y="634.85" font-size="7" font-weight="bold" fill="#3a0000" text-anchor="middle">glucose</text>
<line x1="186" y1="597.5" x2="186" y2="627" stroke="#1a1a1a" stroke-width="1.2"/><path d="M186,597.5 C193.89,596.0 201.78,599.5 212.3,598.5 L212.3,610.5 C201.78,612.0 193.89,608.5 186,610.0 Z" fill="#ec1c1c"/><text x="199.15" y="606.0" font-size="6.261904761904762" font-weight="bold" fill="#3a0000" text-anchor="middle">glucose</text>
<line x1="258" y1="606" x2="258" y2="636.8" stroke="#1a1a1a" stroke-width="1.2"/><path d="M258,606 C265.71,604.5 273.42,608 283.7,607 L283.7,621.5 C273.42,623.0 265.71,619.5 258,621.0 Z" fill="#ec1c1c"/><text x="270.85" y="615.75" font-size="6.119047619047619" font-weight="bold" fill="#3a0000" text-anchor="middle">glucose</text>
<line x1="197.6" y1="633.5" x2="197.6" y2="671.7" stroke="#1a1a1a" stroke-width="1.2"/><path d="M197.6,633.5 C207.44,632.0 217.28,635.5 230.39999999999998,634.5 L230.39999999999998,651.0 C217.28,652.5 207.44,649.0 197.6,650.5 Z" fill="#ec1c1c"/><text x="214.0" y="644.25" font-size="7" font-weight="bold" fill="#3a0000" text-anchor="middle">glucose</text>
<ellipse cx="622" cy="634" rx="140" ry="50" fill="none" stroke="#1f3a7a" stroke-width="1.6" stroke-dasharray="1.6 2.4"/>
<path d="M497,636 C515,628 530,624 545,622 C575,616 620,614 660,616 C700,618 730,628 748,642 L745,656 C720,664 700,668 680,670 C640,675 600,677 560,676 C530,672 510,664 500,658 Z" fill="#f4a466" stroke="#f8c8a0" stroke-width="1"/>
<path d="M498,646 C580,640 680,642 748,648 M520,630 C600,626 680,628 740,636 M502,656 C580,660 660,664 745,658 M540,668 C600,672 650,670 700,667" stroke="#f8d0a8" stroke-width="1" fill="none"/>
<ellipse cx="540" cy="640" rx="6" ry="2.6" fill="#e0aaa0"/>
<ellipse cx="585" cy="632" rx="6" ry="2.6" fill="#e0aaa0"/>
<ellipse cx="640" cy="642" rx="6" ry="2.6" fill="#e0aaa0"/>
<ellipse cx="700" cy="634" rx="6" ry="2.6" fill="#e0aaa0"/>
<ellipse cx="600" cy="662" rx="6" ry="2.6" fill="#e0aaa0"/>
<ellipse cx="660" cy="666" rx="6" ry="2.6" fill="#e0aaa0"/>
<ellipse cx="522" cy="652" rx="6" ry="2.6" fill="#e0aaa0"/>
<ellipse cx="718" cy="654" rx="6" ry="2.6" fill="#e0aaa0"/>
<ellipse cx="560" cy="655" rx="6" ry="2.6" fill="#e0aaa0"/>
<g transform="translate(605,615) rotate(-25)"><path d="M28.143587651725408,-1 C36.14358765172541,-6 42.14358765172541,-5 48.14358765172541,-9 M28.143587651725408,1 C36.14358765172541,0 42.14358765172541,3 50.14358765172541,0" stroke="#707888" stroke-width="0.7" fill="none"/><rect x="-6" y="-11" width="37.14358765172541" height="22" rx="11" fill="none" stroke="#a0a0a0" stroke-width="5" stroke-dasharray="0.7 1.1" opacity="0.85"/><rect x="-5" y="-8" width="35.14358765172541" height="16" rx="8" fill="#8c8c8c"/></g>
<g transform="translate(652.5,629) rotate(-23)"><path d="M29.694756039342266,-1 C37.694756039342266,-6 43.694756039342266,-5 49.694756039342266,-9 M29.694756039342266,1 C37.694756039342266,0 43.694756039342266,3 51.694756039342266,0" stroke="#707888" stroke-width="0.7" fill="none"/><rect x="-6" y="-11" width="38.694756039342266" height="22" rx="11" fill="none" stroke="#a0a0a0" stroke-width="5" stroke-dasharray="0.7 1.1" opacity="0.85"/><rect x="-5" y="-8" width="36.694756039342266" height="16" rx="8" fill="#8c8c8c"/></g>
<g transform="translate(700,641.3) rotate(-25)"><path d="M28.283393759541063,-1 C36.28339375954106,-6 42.28339375954106,-5 48.28339375954106,-9 M28.283393759541063,1 C36.28339375954106,0 42.28339375954106,3 50.28339375954106,0" stroke="#707888" stroke-width="0.7" fill="none"/><rect x="-6" y="-11" width="37.28339375954106" height="22" rx="11" fill="none" stroke="#a0a0a0" stroke-width="5" stroke-dasharray="0.7 1.1" opacity="0.85"/><rect x="-5" y="-8" width="35.28339375954106" height="16" rx="8" fill="#8c8c8c"/></g>
<g transform="translate(532.8,646.6) rotate(-31)"><path d="M40.16517186829629,-1 C48.16517186829629,-6 54.16517186829629,-5 60.16517186829629,-9 M40.16517186829629,1 C48.16517186829629,0 54.16517186829629,3 62.16517186829629,0" stroke="#707888" stroke-width="0.7" fill="none"/><rect x="-6" y="-11" width="49.16517186829629" height="22" rx="11" fill="none" stroke="#a0a0a0" stroke-width="5" stroke-dasharray="0.7 1.1" opacity="0.85"/><rect x="-5" y="-8" width="47.16517186829629" height="16" rx="8" fill="#8c8c8c"/></g>
<g transform="translate(587.4,653.6) rotate(-25)"><path d="M39.94861296449436,-1 C47.94861296449436,-6 53.94861296449436,-5 59.94861296449436,-9 M39.94861296449436,1 C47.94861296449436,0 53.94861296449436,3 61.94861296449436,0" stroke="#707888" stroke-width="0.7" fill="none"/><rect x="-6" y="-11" width="48.94861296449436" height="22" rx="11" fill="none" stroke="#a0a0a0" stroke-width="5" stroke-dasharray="0.7 1.1" opacity="0.85"/><rect x="-5" y="-8" width="46.94861296449436" height="16" rx="8" fill="#8c8c8c"/></g>
<g transform="translate(640,667.7) rotate(-21)"><path d="M42.59558056147176,-1 C50.59558056147176,-6 56.59558056147176,-5 62.59558056147176,-9 M42.59558056147176,1 C50.59558056147176,0 56.59558056147176,3 64.59558056147176,0" stroke="#707888" stroke-width="0.7" fill="none"/><rect x="-6" y="-11" width="51.59558056147176" height="22" rx="11" fill="none" stroke="#a0a0a0" stroke-width="5" stroke-dasharray="0.7 1.1" opacity="0.85"/><rect x="-5" y="-8" width="49.59558056147176" height="16" rx="8" fill="#8c8c8c"/></g>
<circle cx="532.8" cy="646.6" r="7.5" fill="#c4c4c4" stroke="#666" stroke-width="0.6"/><path d="M529.425,650.35 Q532.8,647.35 536.175,650.35" stroke="#222" stroke-width="0.9" fill="none"/><circle cx="530.55" cy="645.1" r="0.7" fill="#222"/><circle cx="535.05" cy="645.1" r="0.7" fill="#222"/>
<circle cx="587.4" cy="653.6" r="7.5" fill="#c4c4c4" stroke="#666" stroke-width="0.6"/><path d="M584.025,657.35 Q587.4,654.35 590.775,657.35" stroke="#222" stroke-width="0.9" fill="none"/><circle cx="585.15" cy="652.1" r="0.7" fill="#222"/><circle cx="589.65" cy="652.1" r="0.7" fill="#222"/>
<circle cx="640" cy="667.7" r="7.5" fill="#c4c4c4" stroke="#666" stroke-width="0.6"/><path d="M636.625,671.45 Q640,668.45 643.375,671.45" stroke="#222" stroke-width="0.9" fill="none"/><circle cx="637.75" cy="666.2" r="0.7" fill="#222"/><circle cx="642.25" cy="666.2" r="0.7" fill="#222"/>
<circle cx="605" cy="615" r="6" fill="#c4c4c4" stroke="#666" stroke-width="0.6"/><path d="M602.3,618.0 Q605,615.6 607.7,618.0" stroke="#222" stroke-width="0.9" fill="none"/><circle cx="603.2" cy="613.8" r="0.7" fill="#222"/><circle cx="606.8" cy="613.8" r="0.7" fill="#222"/>
<circle cx="652.5" cy="629" r="6" fill="#c4c4c4" stroke="#666" stroke-width="0.6"/><path d="M649.8,632.0 Q652.5,629.6 655.2,632.0" stroke="#222" stroke-width="0.9" fill="none"/><circle cx="650.7" cy="627.8" r="0.7" fill="#222"/><circle cx="654.3" cy="627.8" r="0.7" fill="#222"/>
<circle cx="700" cy="641.3" r="6" fill="#c4c4c4" stroke="#666" stroke-width="0.6"/><path d="M697.3,644.3 Q700,641.9 702.7,644.3" stroke="#222" stroke-width="0.9" fill="none"/><circle cx="698.2" cy="640.0999999999999" r="0.7" fill="#222"/><circle cx="701.8" cy="640.0999999999999" r="0.7" fill="#222"/>
<line x1="525" y1="608" x2="525" y2="634" stroke="#1a1a1a" stroke-width="1.2"/><path d="M525,608 C533.1,606.5 541.2,610 552,609 L552,624.4 C541.2,625.9 533.1,622.4 525,623.9 Z" fill="#f6f6f6"/><text x="538.5" y="615.7" font-size="5.09433962264151" font-weight="bold" fill="#222" text-anchor="middle">Glucose</text><text x="538.5" y="621.2943396226416" font-size="5.09433962264151" font-weight="bold" fill="#222" text-anchor="middle">oxidase</text>
<line x1="591" y1="592" x2="591" y2="618.4" stroke="#1a1a1a" stroke-width="1.2"/><path d="M591,592 C596.25,590.5 601.5,594 608.5,593 L608.5,606 C601.5,607.5 596.25,604 591,605.5 Z" fill="#f6f6f6"/><text x="599.75" y="598.5" font-size="3.30188679245283" font-weight="bold" fill="#222" text-anchor="middle">Glucose</text><text x="599.75" y="602.3018867924528" font-size="3.30188679245283" font-weight="bold" fill="#222" text-anchor="middle">oxidase</text>
<line x1="645.4" y1="595.6" x2="645.4" y2="623.7" stroke="#1a1a1a" stroke-width="1.2"/><path d="M645.4,595.6 C651.22,594.1 657.04,597.6 664.8,596.6 L664.8,609.6 C657.04,611.1 651.22,607.6 645.4,609.1 Z" fill="#f6f6f6"/><text x="655.1" y="602.1" font-size="3.660377358490566" font-weight="bold" fill="#222" text-anchor="middle">Glucose</text><text x="655.1" y="606.2603773584906" font-size="3.660377358490566" font-weight="bold" fill="#222" text-anchor="middle">oxidase</text>
<line x1="572.2" y1="623.7" x2="572.2" y2="643" stroke="#1a1a1a" stroke-width="1.2"/><path d="M572.2,623.7 C578.86,622.2 585.5200000000001,625.7 594.4000000000001,624.7 L594.4000000000001,641.3000000000001 C585.5200000000001,642.8000000000001 578.86,639.3000000000001 572.2,640.8000000000001 Z" fill="#f6f6f6"/><text x="583.3000000000001" y="632.0" font-size="4.188679245283019" font-weight="bold" fill="#222" text-anchor="middle">Glucose</text><text x="583.3000000000001" y="636.688679245283" font-size="4.188679245283019" font-weight="bold" fill="#222" text-anchor="middle">oxidase</text>
<line x1="693" y1="604.4" x2="693" y2="632.5" stroke="#1a1a1a" stroke-width="1.2"/><path d="M693,604.4 C699.9,602.9 706.8,606.4 716,605.4 L716,618.4 C706.8,619.9 699.9,616.4 693,617.9 Z" fill="#f6f6f6"/><text x="704.5" y="610.9" font-size="4.339622641509434" font-weight="bold" fill="#222" text-anchor="middle">Glucose</text><text x="704.5" y="615.7396226415094" font-size="4.339622641509434" font-weight="bold" fill="#222" text-anchor="middle">oxidase</text>
<line x1="671.8" y1="636" x2="671.8" y2="669.5" stroke="#1a1a1a" stroke-width="1.2"/><path d="M671.8,636 C679.2099999999999,634.5 686.62,638 696.5,637 L696.5,653.6 C686.62,655.1 679.2099999999999,651.6 671.8,653.1 Z" fill="#f6f6f6"/><text x="684.15" y="644.3" font-size="4.660377358490566" font-weight="bold" fill="#222" text-anchor="middle">Glucose</text><text x="684.15" y="649.4603773584905" font-size="4.660377358490566" font-weight="bold" fill="#222" text-anchor="middle">oxidase</text>
<line x1="513.4" y1="639.6" x2="513.4" y2="654.6" stroke="#f0f0f0" stroke-width="3.2"/><circle cx="513.4" cy="639.6" r="7.2" fill="#d81c1c"/><text x="513.4" y="641.9" font-size="6.2" font-weight="bold" fill="#300" text-anchor="middle">OH</text>
<line x1="580.3" y1="604.4" x2="580.3" y2="619.4" stroke="#f0f0f0" stroke-width="3.2"/><circle cx="580.3" cy="604.4" r="7.2" fill="#d81c1c"/><text x="580.3" y="606.6999999999999" font-size="6.2" font-weight="bold" fill="#300" text-anchor="middle">OH</text>
<line x1="561.7" y1="646.6" x2="561.7" y2="661.6" stroke="#f0f0f0" stroke-width="3.2"/><circle cx="561.7" cy="646.6" r="7.2" fill="#d81c1c"/><text x="561.7" y="648.9" font-size="6.2" font-weight="bold" fill="#300" text-anchor="middle">OH</text>
<line x1="633.8" y1="618.4" x2="633.8" y2="633.4" stroke="#f0f0f0" stroke-width="3.2"/><circle cx="633.8" cy="618.4" r="7.2" fill="#d81c1c"/><text x="633.8" y="620.6999999999999" font-size="6.2" font-weight="bold" fill="#300" text-anchor="middle">OH</text>
<line x1="622.6" y1="653.6" x2="622.6" y2="668.6" stroke="#f0f0f0" stroke-width="3.2"/><circle cx="622.6" cy="653.6" r="7.2" fill="#d81c1c"/><text x="622.6" y="655.9" font-size="6.2" font-weight="bold" fill="#300" text-anchor="middle">OH</text>
<line x1="680" y1="627.2" x2="680" y2="642.2" stroke="#f0f0f0" stroke-width="3.2"/><circle cx="680" cy="627.2" r="7.2" fill="#d81c1c"/><text x="680" y="629.5" font-size="6.2" font-weight="bold" fill="#300" text-anchor="middle">OH</text>
<line x1="775.2" y1="603" x2="775.2" y2="678" stroke="#d82020" stroke-width="1.5"/><polygon points="772,676 778.4,676 775.2,683" fill="#d82020"/>
<text x="778.5" y="638.5" font-size="9.4" font-weight="bold" fill="#000" text-anchor="start" >Lower</text>
<text x="778.5" y="649.5" font-size="9.4" font-weight="bold" fill="#000" text-anchor="start" >pH</text>
<g transform="translate(97.4,701.8) scale(1.0)"><path d="M-13,-0.5 L6,18" stroke="#bcae98" stroke-width="4.5" stroke-linecap="round"/><path d="M29.9,0 C38,0 44,1 48.9,2.4 C55,4 60,6 64.6,8.7 C70,12 74,14 77.3,16.6 C81,19 84,22 86.7,24.5 L91,20 L96.2,19.8 C99,21 101,24 100.9,26.1 C100,30 99.5,33 99.4,35.5 C98.5,40 97.5,44 97.8,48.2 C98,52 99,56 99.4,59.2 C100,64 101,68 100.9,70.2 C100.5,74 100,77 99.4,78.2 C97,80 95,80 93,79.7 C87,79.5 82,79 77.3,78.2 C70,77 66,76 61.5,75 C55,74 50,73 45.6,71.8 C40,70.5 35,70 29.9,68.7 C24,67 19,65.5 14.2,63.9 C11,63 8,62 6.3,60.8 C3,56 2,52 1.6,48.2 C0.5,42 0,35 0,29.2 C0.5,24 2,19 4.6,15 C7,11 10,9 14.2,7.2 C19,4 24,1 29.9,0 Z" fill="url(#mouse)"/><ellipse cx="68.6" cy="45" rx="8.7" ry="10.5" fill="#c8ac98"/><ellipse cx="70" cy="46" rx="5" ry="7" fill="#a88a78"/><ellipse cx="95.5" cy="27.5" rx="4.5" ry="8" fill="#bca492" transform="rotate(20 95.5 27.5)"/><ellipse cx="94" cy="73" rx="5" ry="4" fill="#4a2a24"/><path d="M6,59 L10,66 L14,64 Z" fill="#8a7a68"/></g>
<ellipse cx="125.8" cy="717.6" rx="9" ry="7.7" fill="#f01c28"/>
<g transform="translate(326.8,691.5) scale(1.09)"><path d="M-13,-0.5 L6,18" stroke="#bcae98" stroke-width="4.5" stroke-linecap="round"/><path d="M29.9,0 C38,0 44,1 48.9,2.4 C55,4 60,6 64.6,8.7 C70,12 74,14 77.3,16.6 C81,19 84,22 86.7,24.5 L91,20 L96.2,19.8 C99,21 101,24 100.9,26.1 C100,30 99.5,33 99.4,35.5 C98.5,40 97.5,44 97.8,48.2 C98,52 99,56 99.4,59.2 C100,64 101,68 100.9,70.2 C100.5,74 100,77 99.4,78.2 C97,80 95,80 93,79.7 C87,79.5 82,79 77.3,78.2 C70,77 66,76 61.5,75 C55,74 50,73 45.6,71.8 C40,70.5 35,70 29.9,68.7 C24,67 19,65.5 14.2,63.9 C11,63 8,62 6.3,60.8 C3,56 2,52 1.6,48.2 C0.5,42 0,35 0,29.2 C0.5,24 2,19 4.6,15 C7,11 10,9 14.2,7.2 C19,4 24,1 29.9,0 Z" fill="url(#mouse)"/><ellipse cx="68.6" cy="45" rx="8.7" ry="10.5" fill="#c8ac98"/><ellipse cx="70" cy="46" rx="5" ry="7" fill="#a88a78"/><ellipse cx="95.5" cy="27.5" rx="4.5" ry="8" fill="#bca492" transform="rotate(20 95.5 27.5)"/><ellipse cx="94" cy="73" rx="5" ry="4" fill="#4a2a24"/><path d="M6,59 L10,66 L14,64 Z" fill="#8a7a68"/></g>
<ellipse cx="370" cy="715.8" rx="8.5" ry="6.5" fill="#f01c28"/>
<g transform="translate(579.6,699.6) scale(1.02)"><path d="M-13,-0.5 L6,18" stroke="#bcae98" stroke-width="4.5" stroke-linecap="round"/><path d="M29.9,0 C38,0 44,1 48.9,2.4 C55,4 60,6 64.6,8.7 C70,12 74,14 77.3,16.6 C81,19 84,22 86.7,24.5 L91,20 L96.2,19.8 C99,21 101,24 100.9,26.1 C100,30 99.5,33 99.4,35.5 C98.5,40 97.5,44 97.8,48.2 C98,52 99,56 99.4,59.2 C100,64 101,68 100.9,70.2 C100.5,74 100,77 99.4,78.2 C97,80 95,80 93,79.7 C87,79.5 82,79 77.3,78.2 C70,77 66,76 61.5,75 C55,74 50,73 45.6,71.8 C40,70.5 35,70 29.9,68.7 C24,67 19,65.5 14.2,63.9 C11,63 8,62 6.3,60.8 C3,56 2,52 1.6,48.2 C0.5,42 0,35 0,29.2 C0.5,24 2,19 4.6,15 C7,11 10,9 14.2,7.2 C19,4 24,1 29.9,0 Z" fill="url(#mouse)"/><ellipse cx="68.6" cy="45" rx="8.7" ry="10.5" fill="#c8ac98"/><ellipse cx="70" cy="46" rx="5" ry="7" fill="#a88a78"/><ellipse cx="95.5" cy="27.5" rx="4.5" ry="8" fill="#bca492" transform="rotate(20 95.5 27.5)"/><ellipse cx="94" cy="73" rx="5" ry="4" fill="#4a2a24"/><path d="M6,59 L10,66 L14,64 Z" fill="#8a7a68"/></g>
<ellipse cx="614" cy="719.3" rx="7" ry="2.6" fill="#f01c28"/>
<path d="M81.4,670.4 L118,714 M196,685 L134,716" stroke="#1f3a7a" stroke-width="1.3" stroke-dasharray="1.5 2.2" fill="none"/>
<path d="M540,686 L608,718 M678,680 L620,717" stroke="#1f3a7a" stroke-width="1.3" stroke-dasharray="1.5 2.2" fill="none"/>
<line x1="209" y1="746" x2="309" y2="746" stroke="#40a8e0" stroke-width="3"/><polygon points="317,746 307,741.5 307,750.5" fill="#40a8e0"/>
<line x1="451.5" y1="746.7" x2="554" y2="746.7" stroke="#40a8e0" stroke-width="3"/><polygon points="562,746.7 552,742.2 552,751.2" fill="#40a8e0"/>
<text x="236" y="756.8" font-size="9.4" font-weight="bold" fill="#000" text-anchor="start" >Nanoreactors</text>
<text x="467" y="740.4" font-size="9.4" font-weight="bold" fill="#000" text-anchor="start" >Starvation and</text>
<text x="450.8" y="758.4" font-size="9.4" font-weight="bold" fill="#000" text-anchor="start" >chemo-dynamic therapy</text>
<path d="M379,709 L487,585" stroke="#2850a0" stroke-width="1.6" stroke-dasharray="1.6 2.2"/><polygon points="490,580 481,586 488,591" fill="#2850a0"/>
<text transform="translate(400,702) rotate(-49)" font-size="9.4" font-weight="bold">Starvation and chemo-dynamic</text>
<text transform="translate(442.7,671.5) rotate(-49)" font-size="9.4" font-weight="bold">therapy</text>
<rect x="501" y="475" width="108.6" height="72" rx="10" fill="none" stroke="#4a90c8" stroke-width="1.6" stroke-dasharray="1.6 2.2"/>
<rect x="365.8" y="551" width="17" height="7" fill="#fff"/>
<text x="513" y="487" font-size="7.5" font-weight="bold" fill="#222" text-anchor="start" >gluconic</text>
<text x="513" y="496" font-size="7.5" font-weight="bold" fill="#222" text-anchor="start" >acid</text>
<circle cx="518.8" cy="517.4" r="10.5" fill="#98c448" stroke="#b8dc70" stroke-width="2.5" stroke-dasharray="1 1.2"/>
<text x="518.8" y="520" font-size="6.5" font-weight="bold" fill="#2a3010" text-anchor="middle" >GOx</text>
<circle cx="581.4" cy="517.4" r="10.5" fill="#7cd0e8" stroke="#50b8e0" stroke-width="2.5" stroke-dasharray="1 1.2"/>
<text x="581.4" y="520" font-size="6.5" font-weight="bold" fill="#301010" text-anchor="middle" >BHb</text>
<text x="543" y="524" font-size="10" font-weight="bold" fill="#50a040" text-anchor="middle" >+</text>
<text x="482" y="518" font-size="10" font-weight="bold" fill="#e07050" text-anchor="middle" >+</text>
<text x="553.7" y="541" font-size="7.5" font-weight="bold" fill="#222">H<tspan font-size="5" dy="1.5">2</tspan><tspan dy="-1.5">O</tspan><tspan font-size="5" dy="1.5">2</tspan></text>
<text x="483" y="499" font-size="7.5" font-weight="bold" fill="#222">O<tspan font-size="5" dy="1.5">2</tspan></text>
<circle cx="476" cy="491" r="2.2" fill="#c83030"/><circle cx="478" cy="497" r="2.2" fill="#c83030"/>
<text x="466" y="562.5" font-size="8" font-weight="bold" fill="#222" text-anchor="start" >glucose</text>
<g transform="translate(479,539)"><polygon points="-8,-5 0,-9 8,-5 8,4 0,8 -8,4" fill="none" stroke="#888" stroke-width="1.5"/><circle cx="-8" cy="-5" r="2" fill="#c83030"/><circle cx="8" cy="4" r="2" fill="#c83030"/><circle cx="0" cy="-9" r="2" fill="#c83030"/><circle cx="-12" cy="8" r="2" fill="#c83030"/><circle cx="12" cy="-8" r="2" fill="#c83030"/></g>
<g transform="translate(556,487)"><path d="M-15,3 L-8,-2 L0,3 L8,-2 L15,3" stroke="#888" stroke-width="1.5" fill="none"/><circle cx="-15" cy="3" r="2" fill="#c83030"/><circle cx="-8" cy="-6" r="2" fill="#c83030"/><circle cx="8" cy="-6" r="2" fill="#c83030"/><circle cx="0" cy="8" r="2" fill="#c83030"/><circle cx="15" cy="8" r="2" fill="#c83030"/></g>
<path d="M492,505 Q501.0,500 510,511" stroke="#e07850" stroke-width="2" fill="none"/>
<polygon points="511.9,513.3 506.7,511.7 511.4,507.9" fill="#e07850"/>
<path d="M492,545 Q501.0,520 510,525" stroke="#e07850" stroke-width="2" fill="none"/>
<polygon points="512.6,526.5 507.2,526.9 510.1,521.6" fill="#e07850"/>
<path d="M530,508 Q537.5,492 545,497" stroke="#e07850" stroke-width="2" fill="none"/>
<polygon points="547.5,498.7 542.1,498.7 545.4,493.7" fill="#e07850"/>
<path d="M530,527 Q540.0,522 550,535" stroke="#e07850" stroke-width="2" fill="none"/>
<polygon points="551.8,537.4 546.7,535.6 551.5,532.0" fill="#e07850"/>
<path d="M596,515 Q605.0,505 614,510" stroke="#e07850" stroke-width="2" fill="none"/>
<polygon points="616.6,511.5 611.2,511.9 614.1,506.6" fill="#e07850"/>
<path d="M575,540 Q590,540 592,528" stroke="#a8c890" stroke-width="1.5" fill="none"/>
<g transform="translate(686.6,508.5) rotate(-20)"><rect x="-44" y="-22" width="88" height="44" rx="22" fill="none" stroke="#7a7a7a" stroke-width="7" stroke-dasharray="0.9 1.5" opacity="0.85"/><rect x="-41" y="-19" width="82" height="38" rx="19" fill="url(#grayb)"/></g>
<path d="M722,495 C740,488 760,484 798,485 M722,500 C742,495 760,492 775,482 M720,490 C735,480 750,475 764,467" stroke="#504850" stroke-width="1" fill="none"/>
<circle cx="656" cy="485" r="3.5" fill="#d81818"/><rect x="655" y="478" width="2" height="3" fill="#eee"/>
<circle cx="678" cy="483" r="3.5" fill="#d81818"/><rect x="677" y="476" width="2" height="3" fill="#eee"/>
<circle cx="699" cy="478" r="3.5" fill="#d81818"/><rect x="698" y="471" width="2" height="3" fill="#eee"/>
<circle cx="633" cy="501" r="3.5" fill="#d81818"/><rect x="632" y="494" width="2" height="3" fill="#eee"/>
<circle cx="688" cy="499" r="3.5" fill="#d81818"/><rect x="687" y="492" width="2" height="3" fill="#eee"/>
<circle cx="654" cy="535" r="3.5" fill="#d81818"/><rect x="653" y="528" width="2" height="3" fill="#eee"/>
<circle cx="676" cy="536" r="3.5" fill="#d81818"/><rect x="675" y="529" width="2" height="3" fill="#eee"/>
<circle cx="701" cy="530" r="3.5" fill="#d81818"/><rect x="700" y="523" width="2" height="3" fill="#eee"/>
<circle cx="722" cy="523" r="3.5" fill="#d81818"/><rect x="721" y="516" width="2" height="3" fill="#eee"/>
<text x="624.4" y="517.5" font-size="7.5" font-weight="bold" fill="#222" text-anchor="start" >OH-</text>
<text x="658.5" y="561.8" font-size="8.7" font-weight="bold" fill="#222" text-anchor="start" >Bacterial death</text>
</svg></body></html>
